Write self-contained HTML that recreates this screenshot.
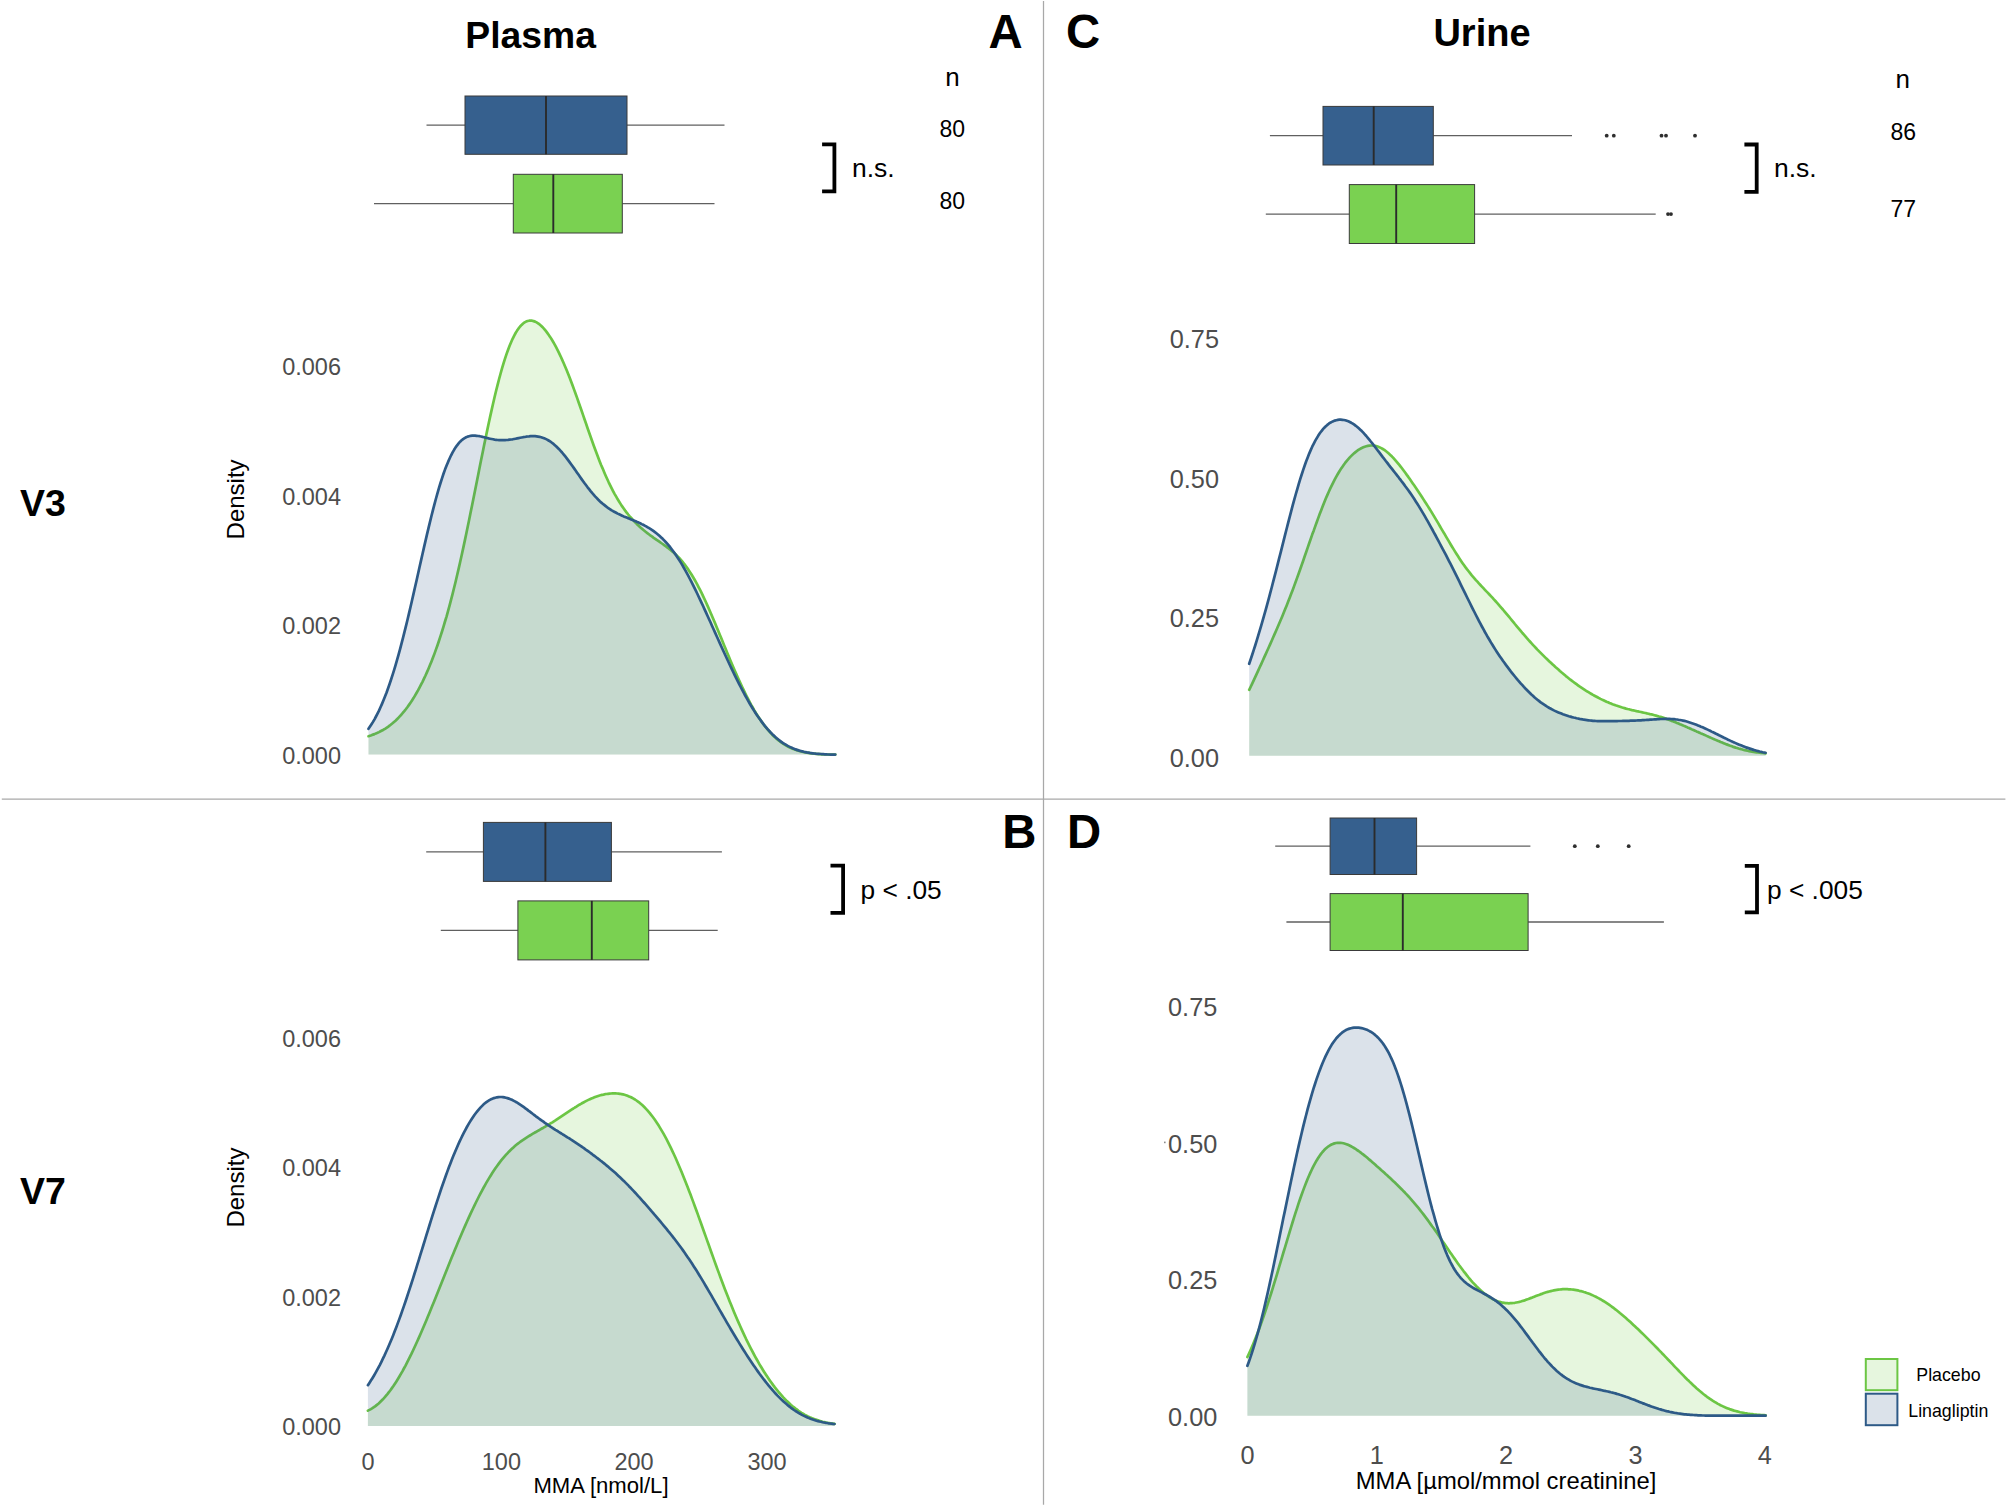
<!DOCTYPE html>
<html lang="en">
<head>
<meta charset="utf-8">
<title>MMA plasma and urine density</title>
<style>
html,body{margin:0;padding:0;background:#fff;}
body{width:2007px;height:1507px;overflow:hidden;}
svg{display:block;}
</style>
</head>
<body>
<svg width="2007" height="1507" viewBox="0 0 2007 1507" font-family='"Liberation Sans", sans-serif'>
<rect width="2007" height="1507" fill="#fff"/>
<path d="M1043.5,1 V1504.8" stroke="#a8a8a8" stroke-width="1.25" fill="none"/>
<path d="M1.8,799 H2005.4" stroke="#a8a8a8" stroke-width="1.25" fill="none"/>
<path d="M368.5,736.2 L370,735.7 L371.5,735.2 L373,734.6 L374.5,734.1 L376,733.4 L377.5,732.8 L379,732.1 L380.5,731.3 L382,730.5 L383.5,729.7 L385,728.8 L386.5,727.8 L388,726.8 L389.5,725.7 L391,724.5 L392.5,723.3 L394,722 L395.5,720.7 L397,719.2 L398.5,717.7 L400,716.1 L401.5,714.5 L403,712.7 L404.5,710.9 L406,709 L407.5,707 L409,704.9 L410.5,702.7 L412,700.4 L413.5,698.1 L415,695.6 L416.5,693 L418,690.4 L419.5,687.6 L421,684.7 L422.5,681.8 L424,678.7 L425.5,675.5 L427,672.1 L428.5,668.7 L430,665.1 L431.5,661.4 L433,657.6 L434.5,653.6 L436,649.4 L437.5,645.2 L439,640.8 L440.5,636.2 L442,631.5 L443.5,626.6 L445,621.5 L446.6,616.3 L448.1,610.9 L449.6,605.4 L451.1,599.7 L452.6,593.9 L454.1,587.8 L455.6,581.7 L457.1,575.3 L458.6,568.9 L460.1,562.3 L461.6,555.5 L463.1,548.6 L464.6,541.6 L466.1,534.5 L467.6,527.3 L469.1,520 L470.6,512.6 L472.1,505.2 L473.6,497.7 L475.1,490.2 L476.6,482.7 L478.1,475.2 L479.6,467.6 L481.1,460.1 L482.6,452.7 L484.1,445.3 L485.6,438 L487.1,430.9 L488.6,423.8 L490.1,416.9 L491.6,410.1 L493.1,403.5 L494.6,397 L496.1,390.8 L497.6,384.8 L499.1,379 L500.6,373.5 L502.1,368.2 L503.6,363.2 L505.1,358.4 L506.6,353.9 L508.1,349.7 L509.6,345.8 L511.1,342.2 L512.6,338.8 L514.1,335.8 L515.6,333 L517.1,330.6 L518.6,328.4 L520.1,326.5 L521.6,324.9 L523.1,323.5 L524.6,322.4 L526.1,321.6 L527.6,321 L529.1,320.7 L530.6,320.6 L532.1,320.7 L533.6,321.1 L535.1,321.6 L536.6,322.4 L538.1,323.3 L539.6,324.4 L541.1,325.7 L542.6,327.2 L544.1,328.8 L545.6,330.6 L547.1,332.6 L548.6,334.7 L550.1,336.9 L551.6,339.3 L553.1,341.8 L554.6,344.4 L556.1,347.2 L557.6,350.1 L559.1,353.2 L560.6,356.3 L562.1,359.6 L563.6,363 L565.1,366.5 L566.6,370.1 L568.1,373.8 L569.6,377.6 L571.1,381.5 L572.6,385.5 L574.1,389.6 L575.6,393.7 L577.1,397.9 L578.6,402.2 L580.1,406.5 L581.6,410.8 L583.1,415.1 L584.6,419.5 L586.1,423.8 L587.6,428.2 L589.1,432.5 L590.6,436.8 L592.1,441 L593.6,445.2 L595.1,449.3 L596.6,453.3 L598.1,457.3 L599.6,461.2 L601.1,465 L602.7,468.6 L604.2,472.2 L605.7,475.7 L607.2,479 L608.7,482.3 L610.2,485.4 L611.7,488.4 L613.2,491.3 L614.7,494.1 L616.2,496.7 L617.7,499.3 L619.2,501.7 L620.7,504.1 L622.2,506.4 L623.7,508.5 L625.2,510.6 L626.7,512.6 L628.2,514.5 L629.7,516.3 L631.2,518 L632.7,519.7 L634.2,521.3 L635.7,522.9 L637.2,524.4 L638.7,525.8 L640.2,527.2 L641.7,528.5 L643.2,529.8 L644.7,531 L646.2,532.2 L647.7,533.4 L649.2,534.5 L650.7,535.7 L652.2,536.7 L653.7,537.8 L655.2,538.8 L656.7,539.9 L658.2,540.9 L659.7,541.9 L661.2,543 L662.7,544 L664.2,545.1 L665.7,546.2 L667.2,547.3 L668.7,548.4 L670.2,549.6 L671.7,550.9 L673.2,552.1 L674.7,553.5 L676.2,554.9 L677.7,556.4 L679.2,558 L680.7,559.7 L682.2,561.4 L683.7,563.3 L685.2,565.2 L686.7,567.3 L688.2,569.4 L689.7,571.7 L691.2,574 L692.7,576.5 L694.2,579 L695.7,581.7 L697.2,584.4 L698.7,587.3 L700.2,590.2 L701.7,593.2 L703.2,596.3 L704.7,599.5 L706.2,602.8 L707.7,606.1 L709.2,609.5 L710.7,613 L712.2,616.5 L713.7,620 L715.2,623.6 L716.7,627.2 L718.2,630.8 L719.7,634.5 L721.2,638.1 L722.7,641.8 L724.2,645.4 L725.7,649.1 L727.2,652.7 L728.7,656.3 L730.2,659.9 L731.7,663.5 L733.2,667 L734.7,670.5 L736.2,673.9 L737.7,677.3 L739.2,680.6 L740.7,683.9 L742.2,687.1 L743.7,690.2 L745.2,693.3 L746.7,696.3 L748.2,699.2 L749.7,702.1 L751.2,704.9 L752.7,707.5 L754.2,710.2 L755.7,712.7 L757.2,715.1 L758.8,717.5 L760.3,719.7 L761.8,721.9 L763.3,724 L764.8,726 L766.3,727.9 L767.8,729.7 L769.3,731.4 L770.8,733.1 L772.3,734.7 L773.8,736.2 L775.3,737.6 L776.8,738.9 L778.3,740.1 L779.8,741.3 L781.3,742.4 L782.8,743.5 L784.3,744.4 L785.8,745.3 L787.3,746.2 L788.8,747 L790.3,747.7 L791.8,748.4 L793.3,749 L794.8,749.5 L796.3,750.1 L797.8,750.5 L799.3,751 L800.8,751.4 L802.3,751.8 L803.8,752.1 L805.3,752.4 L806.8,752.7 L808.3,752.9 L809.8,753.1 L811.3,753.3 L812.8,753.5 L814.3,753.7 L815.8,753.8 L817.3,754 L818.8,754.1 L820.3,754.2 L821.8,754.3 L823.3,754.4 L824.8,754.4 L826.3,754.5 L827.8,754.5 L829.3,754.6 L830.8,754.6 L832.3,754.6 L833.8,754.6 L835.3,754.6 L835.3,754.6 L368.5,754.6 Z" fill="#7ad151" fill-opacity="0.19" stroke="none"/>
<path d="M368.5,736.2 L370,735.7 L371.5,735.2 L373,734.6 L374.5,734.1 L376,733.4 L377.5,732.8 L379,732.1 L380.5,731.3 L382,730.5 L383.5,729.7 L385,728.8 L386.5,727.8 L388,726.8 L389.5,725.7 L391,724.5 L392.5,723.3 L394,722 L395.5,720.7 L397,719.2 L398.5,717.7 L400,716.1 L401.5,714.5 L403,712.7 L404.5,710.9 L406,709 L407.5,707 L409,704.9 L410.5,702.7 L412,700.4 L413.5,698.1 L415,695.6 L416.5,693 L418,690.4 L419.5,687.6 L421,684.7 L422.5,681.8 L424,678.7 L425.5,675.5 L427,672.1 L428.5,668.7 L430,665.1 L431.5,661.4 L433,657.6 L434.5,653.6 L436,649.4 L437.5,645.2 L439,640.8 L440.5,636.2 L442,631.5 L443.5,626.6 L445,621.5 L446.6,616.3 L448.1,610.9 L449.6,605.4 L451.1,599.7 L452.6,593.9 L454.1,587.8 L455.6,581.7 L457.1,575.3 L458.6,568.9 L460.1,562.3 L461.6,555.5 L463.1,548.6 L464.6,541.6 L466.1,534.5 L467.6,527.3 L469.1,520 L470.6,512.6 L472.1,505.2 L473.6,497.7 L475.1,490.2 L476.6,482.7 L478.1,475.2 L479.6,467.6 L481.1,460.1 L482.6,452.7 L484.1,445.3 L485.6,438 L487.1,430.9 L488.6,423.8 L490.1,416.9 L491.6,410.1 L493.1,403.5 L494.6,397 L496.1,390.8 L497.6,384.8 L499.1,379 L500.6,373.5 L502.1,368.2 L503.6,363.2 L505.1,358.4 L506.6,353.9 L508.1,349.7 L509.6,345.8 L511.1,342.2 L512.6,338.8 L514.1,335.8 L515.6,333 L517.1,330.6 L518.6,328.4 L520.1,326.5 L521.6,324.9 L523.1,323.5 L524.6,322.4 L526.1,321.6 L527.6,321 L529.1,320.7 L530.6,320.6 L532.1,320.7 L533.6,321.1 L535.1,321.6 L536.6,322.4 L538.1,323.3 L539.6,324.4 L541.1,325.7 L542.6,327.2 L544.1,328.8 L545.6,330.6 L547.1,332.6 L548.6,334.7 L550.1,336.9 L551.6,339.3 L553.1,341.8 L554.6,344.4 L556.1,347.2 L557.6,350.1 L559.1,353.2 L560.6,356.3 L562.1,359.6 L563.6,363 L565.1,366.5 L566.6,370.1 L568.1,373.8 L569.6,377.6 L571.1,381.5 L572.6,385.5 L574.1,389.6 L575.6,393.7 L577.1,397.9 L578.6,402.2 L580.1,406.5 L581.6,410.8 L583.1,415.1 L584.6,419.5 L586.1,423.8 L587.6,428.2 L589.1,432.5 L590.6,436.8 L592.1,441 L593.6,445.2 L595.1,449.3 L596.6,453.3 L598.1,457.3 L599.6,461.2 L601.1,465 L602.7,468.6 L604.2,472.2 L605.7,475.7 L607.2,479 L608.7,482.3 L610.2,485.4 L611.7,488.4 L613.2,491.3 L614.7,494.1 L616.2,496.7 L617.7,499.3 L619.2,501.7 L620.7,504.1 L622.2,506.4 L623.7,508.5 L625.2,510.6 L626.7,512.6 L628.2,514.5 L629.7,516.3 L631.2,518 L632.7,519.7 L634.2,521.3 L635.7,522.9 L637.2,524.4 L638.7,525.8 L640.2,527.2 L641.7,528.5 L643.2,529.8 L644.7,531 L646.2,532.2 L647.7,533.4 L649.2,534.5 L650.7,535.7 L652.2,536.7 L653.7,537.8 L655.2,538.8 L656.7,539.9 L658.2,540.9 L659.7,541.9 L661.2,543 L662.7,544 L664.2,545.1 L665.7,546.2 L667.2,547.3 L668.7,548.4 L670.2,549.6 L671.7,550.9 L673.2,552.1 L674.7,553.5 L676.2,554.9 L677.7,556.4 L679.2,558 L680.7,559.7 L682.2,561.4 L683.7,563.3 L685.2,565.2 L686.7,567.3 L688.2,569.4 L689.7,571.7 L691.2,574 L692.7,576.5 L694.2,579 L695.7,581.7 L697.2,584.4 L698.7,587.3 L700.2,590.2 L701.7,593.2 L703.2,596.3 L704.7,599.5 L706.2,602.8 L707.7,606.1 L709.2,609.5 L710.7,613 L712.2,616.5 L713.7,620 L715.2,623.6 L716.7,627.2 L718.2,630.8 L719.7,634.5 L721.2,638.1 L722.7,641.8 L724.2,645.4 L725.7,649.1 L727.2,652.7 L728.7,656.3 L730.2,659.9 L731.7,663.5 L733.2,667 L734.7,670.5 L736.2,673.9 L737.7,677.3 L739.2,680.6 L740.7,683.9 L742.2,687.1 L743.7,690.2 L745.2,693.3 L746.7,696.3 L748.2,699.2 L749.7,702.1 L751.2,704.9 L752.7,707.5 L754.2,710.2 L755.7,712.7 L757.2,715.1 L758.8,717.5 L760.3,719.7 L761.8,721.9 L763.3,724 L764.8,726 L766.3,727.9 L767.8,729.7 L769.3,731.4 L770.8,733.1 L772.3,734.7 L773.8,736.2 L775.3,737.6 L776.8,738.9 L778.3,740.1 L779.8,741.3 L781.3,742.4 L782.8,743.5 L784.3,744.4 L785.8,745.3 L787.3,746.2 L788.8,747 L790.3,747.7 L791.8,748.4 L793.3,749 L794.8,749.5 L796.3,750.1 L797.8,750.5 L799.3,751 L800.8,751.4 L802.3,751.8 L803.8,752.1 L805.3,752.4 L806.8,752.7 L808.3,752.9 L809.8,753.1 L811.3,753.3 L812.8,753.5 L814.3,753.7 L815.8,753.8 L817.3,754 L818.8,754.1 L820.3,754.2 L821.8,754.3 L823.3,754.4 L824.8,754.4 L826.3,754.5 L827.8,754.5 L829.3,754.6 L830.8,754.6 L832.3,754.6 L833.8,754.6 L835.3,754.6" fill="none" stroke="#6cc644" stroke-width="2.7" stroke-linejoin="round" stroke-linecap="round"/>
<path d="M368.5,728.8 L370,726.6 L371.5,724.3 L373,721.9 L374.5,719.3 L376,716.5 L377.5,713.6 L379,710.6 L380.5,707.3 L382,703.9 L383.5,700.3 L385,696.6 L386.5,692.7 L388,688.5 L389.5,684.3 L391,679.8 L392.5,675.1 L394,670.3 L395.5,665.3 L397,660.2 L398.5,654.8 L400,649.3 L401.5,643.7 L403,637.9 L404.5,631.9 L406,625.9 L407.5,619.7 L409,613.4 L410.5,607 L412,600.5 L413.5,593.9 L415,587.3 L416.5,580.7 L418,574 L419.5,567.3 L421,560.6 L422.5,554 L424,547.4 L425.5,540.9 L427,534.4 L428.5,528.1 L430,521.9 L431.5,515.8 L433,509.8 L434.5,504.1 L436,498.5 L437.5,493.1 L439,487.9 L440.5,483 L442,478.3 L443.5,473.8 L445,469.6 L446.6,465.6 L448.1,461.9 L449.6,458.5 L451.1,455.3 L452.6,452.4 L454.1,449.8 L455.6,447.4 L457.1,445.3 L458.6,443.4 L460.1,441.7 L461.6,440.3 L463.1,439.1 L464.6,438.1 L466.1,437.3 L467.6,436.6 L469.1,436.2 L470.6,435.8 L472.1,435.7 L473.6,435.6 L475.1,435.6 L476.6,435.8 L478.1,436 L479.6,436.2 L481.1,436.5 L482.6,436.9 L484.1,437.2 L485.6,437.6 L487.1,438 L488.6,438.4 L490.1,438.7 L491.6,439 L493.1,439.3 L494.6,439.6 L496.1,439.8 L497.6,440 L499.1,440.1 L500.6,440.2 L502.1,440.2 L503.6,440.2 L505.1,440.1 L506.6,440 L508.1,439.9 L509.6,439.7 L511.1,439.5 L512.6,439.3 L514.1,439 L515.6,438.7 L517.1,438.4 L518.6,438.1 L520.1,437.8 L521.6,437.5 L523.1,437.2 L524.6,437 L526.1,436.7 L527.6,436.5 L529.1,436.4 L530.6,436.2 L532.1,436.2 L533.6,436.2 L535.1,436.2 L536.6,436.4 L538.1,436.6 L539.6,436.8 L541.1,437.2 L542.6,437.7 L544.1,438.2 L545.6,438.9 L547.1,439.6 L548.6,440.5 L550.1,441.4 L551.6,442.5 L553.1,443.6 L554.6,444.9 L556.1,446.2 L557.6,447.7 L559.1,449.2 L560.6,450.8 L562.1,452.5 L563.6,454.3 L565.1,456.2 L566.6,458.1 L568.1,460.1 L569.6,462.1 L571.1,464.2 L572.6,466.3 L574.1,468.4 L575.6,470.5 L577.1,472.7 L578.6,474.8 L580.1,477 L581.6,479.1 L583.1,481.2 L584.6,483.3 L586.1,485.3 L587.6,487.3 L589.1,489.2 L590.6,491.1 L592.1,492.9 L593.6,494.6 L595.1,496.3 L596.6,497.9 L598.1,499.5 L599.6,501 L601.1,502.4 L602.7,503.7 L604.2,504.9 L605.7,506.1 L607.2,507.3 L608.7,508.3 L610.2,509.3 L611.7,510.3 L613.2,511.2 L614.7,512 L616.2,512.8 L617.7,513.6 L619.2,514.3 L620.7,515 L622.2,515.7 L623.7,516.4 L625.2,517 L626.7,517.6 L628.2,518.2 L629.7,518.8 L631.2,519.5 L632.7,520.1 L634.2,520.7 L635.7,521.3 L637.2,522 L638.7,522.6 L640.2,523.3 L641.7,524.1 L643.2,524.8 L644.7,525.6 L646.2,526.4 L647.7,527.3 L649.2,528.2 L650.7,529.1 L652.2,530.1 L653.7,531.2 L655.2,532.3 L656.7,533.5 L658.2,534.7 L659.7,536 L661.2,537.4 L662.7,538.8 L664.2,540.4 L665.7,542 L667.2,543.6 L668.7,545.4 L670.2,547.2 L671.7,549.2 L673.2,551.2 L674.7,553.3 L676.2,555.4 L677.7,557.7 L679.2,560 L680.7,562.4 L682.2,564.9 L683.7,567.5 L685.2,570.2 L686.7,572.9 L688.2,575.6 L689.7,578.5 L691.2,581.4 L692.7,584.3 L694.2,587.4 L695.7,590.4 L697.2,593.5 L698.7,596.7 L700.2,599.9 L701.7,603.1 L703.2,606.3 L704.7,609.6 L706.2,612.9 L707.7,616.2 L709.2,619.5 L710.7,622.8 L712.2,626.2 L713.7,629.5 L715.2,632.9 L716.7,636.2 L718.2,639.5 L719.7,642.9 L721.2,646.2 L722.7,649.5 L724.2,652.8 L725.7,656 L727.2,659.3 L728.7,662.5 L730.2,665.7 L731.7,668.8 L733.2,672 L734.7,675.1 L736.2,678.1 L737.7,681.1 L739.2,684.1 L740.7,687 L742.2,689.9 L743.7,692.7 L745.2,695.5 L746.7,698.2 L748.2,700.9 L749.7,703.5 L751.2,706 L752.7,708.5 L754.2,710.9 L755.7,713.2 L757.2,715.5 L758.8,717.7 L760.3,719.8 L761.8,721.9 L763.3,723.9 L764.8,725.8 L766.3,727.6 L767.8,729.4 L769.3,731 L770.8,732.6 L772.3,734.2 L773.8,735.6 L775.3,737 L776.8,738.3 L778.3,739.5 L779.8,740.7 L781.3,741.8 L782.8,742.9 L784.3,743.8 L785.8,744.7 L787.3,745.6 L788.8,746.4 L790.3,747.1 L791.8,747.8 L793.3,748.5 L794.8,749.1 L796.3,749.6 L797.8,750.1 L799.3,750.6 L800.8,751 L802.3,751.4 L803.8,751.8 L805.3,752.1 L806.8,752.4 L808.3,752.6 L809.8,752.9 L811.3,753.1 L812.8,753.3 L814.3,753.5 L815.8,753.7 L817.3,753.8 L818.8,753.9 L820.3,754 L821.8,754.1 L823.3,754.2 L824.8,754.3 L826.3,754.4 L827.8,754.5 L829.3,754.5 L830.8,754.6 L832.3,754.6 L833.8,754.6 L835.3,754.6 L835.3,754.6 L368.5,754.6 Z" fill="#35608d" fill-opacity="0.18" stroke="none"/>
<path d="M368.5,728.8 L370,726.6 L371.5,724.3 L373,721.9 L374.5,719.3 L376,716.5 L377.5,713.6 L379,710.6 L380.5,707.3 L382,703.9 L383.5,700.3 L385,696.6 L386.5,692.7 L388,688.5 L389.5,684.3 L391,679.8 L392.5,675.1 L394,670.3 L395.5,665.3 L397,660.2 L398.5,654.8 L400,649.3 L401.5,643.7 L403,637.9 L404.5,631.9 L406,625.9 L407.5,619.7 L409,613.4 L410.5,607 L412,600.5 L413.5,593.9 L415,587.3 L416.5,580.7 L418,574 L419.5,567.3 L421,560.6 L422.5,554 L424,547.4 L425.5,540.9 L427,534.4 L428.5,528.1 L430,521.9 L431.5,515.8 L433,509.8 L434.5,504.1 L436,498.5 L437.5,493.1 L439,487.9 L440.5,483 L442,478.3 L443.5,473.8 L445,469.6 L446.6,465.6 L448.1,461.9 L449.6,458.5 L451.1,455.3 L452.6,452.4 L454.1,449.8 L455.6,447.4 L457.1,445.3 L458.6,443.4 L460.1,441.7 L461.6,440.3 L463.1,439.1 L464.6,438.1 L466.1,437.3 L467.6,436.6 L469.1,436.2 L470.6,435.8 L472.1,435.7 L473.6,435.6 L475.1,435.6 L476.6,435.8 L478.1,436 L479.6,436.2 L481.1,436.5 L482.6,436.9 L484.1,437.2 L485.6,437.6 L487.1,438 L488.6,438.4 L490.1,438.7 L491.6,439 L493.1,439.3 L494.6,439.6 L496.1,439.8 L497.6,440 L499.1,440.1 L500.6,440.2 L502.1,440.2 L503.6,440.2 L505.1,440.1 L506.6,440 L508.1,439.9 L509.6,439.7 L511.1,439.5 L512.6,439.3 L514.1,439 L515.6,438.7 L517.1,438.4 L518.6,438.1 L520.1,437.8 L521.6,437.5 L523.1,437.2 L524.6,437 L526.1,436.7 L527.6,436.5 L529.1,436.4 L530.6,436.2 L532.1,436.2 L533.6,436.2 L535.1,436.2 L536.6,436.4 L538.1,436.6 L539.6,436.8 L541.1,437.2 L542.6,437.7 L544.1,438.2 L545.6,438.9 L547.1,439.6 L548.6,440.5 L550.1,441.4 L551.6,442.5 L553.1,443.6 L554.6,444.9 L556.1,446.2 L557.6,447.7 L559.1,449.2 L560.6,450.8 L562.1,452.5 L563.6,454.3 L565.1,456.2 L566.6,458.1 L568.1,460.1 L569.6,462.1 L571.1,464.2 L572.6,466.3 L574.1,468.4 L575.6,470.5 L577.1,472.7 L578.6,474.8 L580.1,477 L581.6,479.1 L583.1,481.2 L584.6,483.3 L586.1,485.3 L587.6,487.3 L589.1,489.2 L590.6,491.1 L592.1,492.9 L593.6,494.6 L595.1,496.3 L596.6,497.9 L598.1,499.5 L599.6,501 L601.1,502.4 L602.7,503.7 L604.2,504.9 L605.7,506.1 L607.2,507.3 L608.7,508.3 L610.2,509.3 L611.7,510.3 L613.2,511.2 L614.7,512 L616.2,512.8 L617.7,513.6 L619.2,514.3 L620.7,515 L622.2,515.7 L623.7,516.4 L625.2,517 L626.7,517.6 L628.2,518.2 L629.7,518.8 L631.2,519.5 L632.7,520.1 L634.2,520.7 L635.7,521.3 L637.2,522 L638.7,522.6 L640.2,523.3 L641.7,524.1 L643.2,524.8 L644.7,525.6 L646.2,526.4 L647.7,527.3 L649.2,528.2 L650.7,529.1 L652.2,530.1 L653.7,531.2 L655.2,532.3 L656.7,533.5 L658.2,534.7 L659.7,536 L661.2,537.4 L662.7,538.8 L664.2,540.4 L665.7,542 L667.2,543.6 L668.7,545.4 L670.2,547.2 L671.7,549.2 L673.2,551.2 L674.7,553.3 L676.2,555.4 L677.7,557.7 L679.2,560 L680.7,562.4 L682.2,564.9 L683.7,567.5 L685.2,570.2 L686.7,572.9 L688.2,575.6 L689.7,578.5 L691.2,581.4 L692.7,584.3 L694.2,587.4 L695.7,590.4 L697.2,593.5 L698.7,596.7 L700.2,599.9 L701.7,603.1 L703.2,606.3 L704.7,609.6 L706.2,612.9 L707.7,616.2 L709.2,619.5 L710.7,622.8 L712.2,626.2 L713.7,629.5 L715.2,632.9 L716.7,636.2 L718.2,639.5 L719.7,642.9 L721.2,646.2 L722.7,649.5 L724.2,652.8 L725.7,656 L727.2,659.3 L728.7,662.5 L730.2,665.7 L731.7,668.8 L733.2,672 L734.7,675.1 L736.2,678.1 L737.7,681.1 L739.2,684.1 L740.7,687 L742.2,689.9 L743.7,692.7 L745.2,695.5 L746.7,698.2 L748.2,700.9 L749.7,703.5 L751.2,706 L752.7,708.5 L754.2,710.9 L755.7,713.2 L757.2,715.5 L758.8,717.7 L760.3,719.8 L761.8,721.9 L763.3,723.9 L764.8,725.8 L766.3,727.6 L767.8,729.4 L769.3,731 L770.8,732.6 L772.3,734.2 L773.8,735.6 L775.3,737 L776.8,738.3 L778.3,739.5 L779.8,740.7 L781.3,741.8 L782.8,742.9 L784.3,743.8 L785.8,744.7 L787.3,745.6 L788.8,746.4 L790.3,747.1 L791.8,747.8 L793.3,748.5 L794.8,749.1 L796.3,749.6 L797.8,750.1 L799.3,750.6 L800.8,751 L802.3,751.4 L803.8,751.8 L805.3,752.1 L806.8,752.4 L808.3,752.6 L809.8,752.9 L811.3,753.1 L812.8,753.3 L814.3,753.5 L815.8,753.7 L817.3,753.8 L818.8,753.9 L820.3,754 L821.8,754.1 L823.3,754.2 L824.8,754.3 L826.3,754.4 L827.8,754.5 L829.3,754.5 L830.8,754.6 L832.3,754.6 L833.8,754.6 L835.3,754.6" fill="none" stroke="#2d5a87" stroke-width="2.7" stroke-linejoin="round" stroke-linecap="round"/>
<path d="M1249.2,689.9 L1250.7,686.7 L1252.2,683.6 L1253.7,680.4 L1255.2,677.1 L1256.7,673.9 L1258.2,670.6 L1259.7,667.3 L1261.2,664.1 L1262.7,660.8 L1264.2,657.4 L1265.7,654.1 L1267.2,650.8 L1268.7,647.5 L1270.2,644.1 L1271.7,640.7 L1273.2,637.3 L1274.7,633.9 L1276.2,630.5 L1277.7,627 L1279.2,623.5 L1280.7,620 L1282.2,616.4 L1283.7,612.8 L1285.2,609.1 L1286.7,605.4 L1288.2,601.6 L1289.7,597.7 L1291.2,593.8 L1292.7,589.9 L1294.2,585.9 L1295.7,581.8 L1297.2,577.6 L1298.7,573.5 L1300.2,569.2 L1301.7,565 L1303.2,560.7 L1304.7,556.3 L1306.2,552 L1307.7,547.6 L1309.2,543.3 L1310.7,539 L1312.2,534.6 L1313.8,530.4 L1315.3,526.1 L1316.8,522 L1318.3,517.9 L1319.8,513.8 L1321.3,509.9 L1322.8,506 L1324.3,502.3 L1325.8,498.6 L1327.3,495.1 L1328.8,491.7 L1330.3,488.4 L1331.8,485.3 L1333.3,482.3 L1334.8,479.4 L1336.3,476.6 L1337.8,474 L1339.3,471.5 L1340.8,469.1 L1342.3,466.9 L1343.8,464.7 L1345.3,462.7 L1346.8,460.8 L1348.3,459.1 L1349.8,457.4 L1351.3,455.9 L1352.8,454.4 L1354.3,453.1 L1355.8,451.9 L1357.3,450.7 L1358.8,449.7 L1360.3,448.8 L1361.8,448 L1363.3,447.3 L1364.8,446.7 L1366.3,446.3 L1367.8,445.9 L1369.3,445.7 L1370.8,445.5 L1372.3,445.5 L1373.8,445.7 L1375.3,445.9 L1376.8,446.3 L1378.3,446.8 L1379.8,447.4 L1381.3,448.1 L1382.8,449 L1384.3,449.9 L1385.8,451 L1387.3,452.2 L1388.8,453.5 L1390.3,454.9 L1391.8,456.3 L1393.3,457.9 L1394.8,459.6 L1396.3,461.3 L1397.8,463.1 L1399.3,464.9 L1400.8,466.8 L1402.3,468.8 L1403.8,470.8 L1405.3,472.8 L1406.8,474.9 L1408.3,476.9 L1409.8,479.1 L1411.3,481.2 L1412.8,483.4 L1414.3,485.5 L1415.8,487.7 L1417.3,490 L1418.8,492.2 L1420.3,494.5 L1421.8,496.7 L1423.3,499.1 L1424.8,501.4 L1426.3,503.7 L1427.8,506.1 L1429.3,508.5 L1430.8,510.9 L1432.3,513.4 L1433.8,515.9 L1435.3,518.4 L1436.8,520.9 L1438.3,523.4 L1439.8,526 L1441.3,528.6 L1442.8,531.1 L1444.4,533.7 L1445.9,536.3 L1447.4,538.9 L1448.9,541.4 L1450.4,544 L1451.9,546.5 L1453.4,548.9 L1454.9,551.4 L1456.4,553.8 L1457.9,556.1 L1459.4,558.4 L1460.9,560.7 L1462.4,562.9 L1463.9,565 L1465.4,567.1 L1466.9,569.1 L1468.4,571 L1469.9,572.9 L1471.4,574.8 L1472.9,576.6 L1474.4,578.3 L1475.9,580.1 L1477.4,581.7 L1478.9,583.4 L1480.4,585 L1481.9,586.6 L1483.4,588.2 L1484.9,589.8 L1486.4,591.4 L1487.9,592.9 L1489.4,594.5 L1490.9,596.1 L1492.4,597.7 L1493.9,599.4 L1495.4,601 L1496.9,602.7 L1498.4,604.3 L1499.9,606.1 L1501.4,607.8 L1502.9,609.5 L1504.4,611.3 L1505.9,613.1 L1507.4,614.9 L1508.9,616.7 L1510.4,618.5 L1511.9,620.3 L1513.4,622.1 L1514.9,624 L1516.4,625.8 L1517.9,627.6 L1519.4,629.4 L1520.9,631.2 L1522.4,633 L1523.9,634.7 L1525.4,636.4 L1526.9,638.2 L1528.4,639.9 L1529.9,641.5 L1531.4,643.2 L1532.9,644.8 L1534.4,646.4 L1535.9,648 L1537.4,649.6 L1538.9,651.1 L1540.4,652.6 L1541.9,654.1 L1543.4,655.6 L1544.9,657.1 L1546.4,658.6 L1547.9,660 L1549.4,661.4 L1550.9,662.8 L1552.4,664.2 L1553.9,665.6 L1555.4,667 L1556.9,668.3 L1558.4,669.6 L1559.9,671 L1561.4,672.3 L1562.9,673.5 L1564.4,674.8 L1565.9,676.1 L1567.4,677.3 L1568.9,678.5 L1570.4,679.7 L1572,680.9 L1573.5,682 L1575,683.1 L1576.5,684.2 L1578,685.3 L1579.5,686.4 L1581,687.4 L1582.5,688.4 L1584,689.4 L1585.5,690.4 L1587,691.3 L1588.5,692.2 L1590,693.1 L1591.5,694 L1593,694.9 L1594.5,695.7 L1596,696.5 L1597.5,697.3 L1599,698.1 L1600.5,698.9 L1602,699.6 L1603.5,700.3 L1605,701 L1606.5,701.7 L1608,702.3 L1609.5,703 L1611,703.6 L1612.5,704.2 L1614,704.7 L1615.5,705.3 L1617,705.8 L1618.5,706.3 L1620,706.8 L1621.5,707.3 L1623,707.7 L1624.5,708.1 L1626,708.6 L1627.5,709 L1629,709.3 L1630.5,709.7 L1632,710.1 L1633.5,710.4 L1635,710.7 L1636.5,711.1 L1638,711.4 L1639.5,711.7 L1641,712 L1642.5,712.4 L1644,712.7 L1645.5,713 L1647,713.4 L1648.5,713.7 L1650,714.1 L1651.5,714.4 L1653,714.8 L1654.5,715.2 L1656,715.6 L1657.5,716 L1659,716.5 L1660.5,716.9 L1662,717.4 L1663.5,717.9 L1665,718.4 L1666.5,718.9 L1668,719.5 L1669.5,720 L1671,720.6 L1672.5,721.1 L1674,721.7 L1675.5,722.3 L1677,722.9 L1678.5,723.5 L1680,724.2 L1681.5,724.8 L1683,725.4 L1684.5,726.1 L1686,726.7 L1687.5,727.4 L1689,728 L1690.5,728.7 L1692,729.4 L1693.5,730 L1695,730.7 L1696.5,731.4 L1698,732 L1699.5,732.7 L1701,733.4 L1702.6,734.1 L1704.1,734.7 L1705.6,735.4 L1707.1,736.1 L1708.6,736.8 L1710.1,737.4 L1711.6,738.1 L1713.1,738.8 L1714.6,739.4 L1716.1,740.1 L1717.6,740.7 L1719.1,741.3 L1720.6,742 L1722.1,742.6 L1723.6,743.2 L1725.1,743.8 L1726.6,744.4 L1728.1,744.9 L1729.6,745.5 L1731.1,746 L1732.6,746.6 L1734.1,747.1 L1735.6,747.6 L1737.1,748 L1738.6,748.5 L1740.1,748.9 L1741.6,749.3 L1743.1,749.7 L1744.6,750.1 L1746.1,750.4 L1747.6,750.8 L1749.1,751.1 L1750.6,751.4 L1752.1,751.6 L1753.6,751.9 L1755.1,752.1 L1756.6,752.3 L1758.1,752.5 L1759.6,752.7 L1761.1,752.9 L1762.6,753 L1764.1,753.1 L1765.6,753.3 L1765.6,755.8 L1249.2,755.8 Z" fill="#7ad151" fill-opacity="0.19" stroke="none"/>
<path d="M1249.2,689.9 L1250.7,686.7 L1252.2,683.6 L1253.7,680.4 L1255.2,677.1 L1256.7,673.9 L1258.2,670.6 L1259.7,667.3 L1261.2,664.1 L1262.7,660.8 L1264.2,657.4 L1265.7,654.1 L1267.2,650.8 L1268.7,647.5 L1270.2,644.1 L1271.7,640.7 L1273.2,637.3 L1274.7,633.9 L1276.2,630.5 L1277.7,627 L1279.2,623.5 L1280.7,620 L1282.2,616.4 L1283.7,612.8 L1285.2,609.1 L1286.7,605.4 L1288.2,601.6 L1289.7,597.7 L1291.2,593.8 L1292.7,589.9 L1294.2,585.9 L1295.7,581.8 L1297.2,577.6 L1298.7,573.5 L1300.2,569.2 L1301.7,565 L1303.2,560.7 L1304.7,556.3 L1306.2,552 L1307.7,547.6 L1309.2,543.3 L1310.7,539 L1312.2,534.6 L1313.8,530.4 L1315.3,526.1 L1316.8,522 L1318.3,517.9 L1319.8,513.8 L1321.3,509.9 L1322.8,506 L1324.3,502.3 L1325.8,498.6 L1327.3,495.1 L1328.8,491.7 L1330.3,488.4 L1331.8,485.3 L1333.3,482.3 L1334.8,479.4 L1336.3,476.6 L1337.8,474 L1339.3,471.5 L1340.8,469.1 L1342.3,466.9 L1343.8,464.7 L1345.3,462.7 L1346.8,460.8 L1348.3,459.1 L1349.8,457.4 L1351.3,455.9 L1352.8,454.4 L1354.3,453.1 L1355.8,451.9 L1357.3,450.7 L1358.8,449.7 L1360.3,448.8 L1361.8,448 L1363.3,447.3 L1364.8,446.7 L1366.3,446.3 L1367.8,445.9 L1369.3,445.7 L1370.8,445.5 L1372.3,445.5 L1373.8,445.7 L1375.3,445.9 L1376.8,446.3 L1378.3,446.8 L1379.8,447.4 L1381.3,448.1 L1382.8,449 L1384.3,449.9 L1385.8,451 L1387.3,452.2 L1388.8,453.5 L1390.3,454.9 L1391.8,456.3 L1393.3,457.9 L1394.8,459.6 L1396.3,461.3 L1397.8,463.1 L1399.3,464.9 L1400.8,466.8 L1402.3,468.8 L1403.8,470.8 L1405.3,472.8 L1406.8,474.9 L1408.3,476.9 L1409.8,479.1 L1411.3,481.2 L1412.8,483.4 L1414.3,485.5 L1415.8,487.7 L1417.3,490 L1418.8,492.2 L1420.3,494.5 L1421.8,496.7 L1423.3,499.1 L1424.8,501.4 L1426.3,503.7 L1427.8,506.1 L1429.3,508.5 L1430.8,510.9 L1432.3,513.4 L1433.8,515.9 L1435.3,518.4 L1436.8,520.9 L1438.3,523.4 L1439.8,526 L1441.3,528.6 L1442.8,531.1 L1444.4,533.7 L1445.9,536.3 L1447.4,538.9 L1448.9,541.4 L1450.4,544 L1451.9,546.5 L1453.4,548.9 L1454.9,551.4 L1456.4,553.8 L1457.9,556.1 L1459.4,558.4 L1460.9,560.7 L1462.4,562.9 L1463.9,565 L1465.4,567.1 L1466.9,569.1 L1468.4,571 L1469.9,572.9 L1471.4,574.8 L1472.9,576.6 L1474.4,578.3 L1475.9,580.1 L1477.4,581.7 L1478.9,583.4 L1480.4,585 L1481.9,586.6 L1483.4,588.2 L1484.9,589.8 L1486.4,591.4 L1487.9,592.9 L1489.4,594.5 L1490.9,596.1 L1492.4,597.7 L1493.9,599.4 L1495.4,601 L1496.9,602.7 L1498.4,604.3 L1499.9,606.1 L1501.4,607.8 L1502.9,609.5 L1504.4,611.3 L1505.9,613.1 L1507.4,614.9 L1508.9,616.7 L1510.4,618.5 L1511.9,620.3 L1513.4,622.1 L1514.9,624 L1516.4,625.8 L1517.9,627.6 L1519.4,629.4 L1520.9,631.2 L1522.4,633 L1523.9,634.7 L1525.4,636.4 L1526.9,638.2 L1528.4,639.9 L1529.9,641.5 L1531.4,643.2 L1532.9,644.8 L1534.4,646.4 L1535.9,648 L1537.4,649.6 L1538.9,651.1 L1540.4,652.6 L1541.9,654.1 L1543.4,655.6 L1544.9,657.1 L1546.4,658.6 L1547.9,660 L1549.4,661.4 L1550.9,662.8 L1552.4,664.2 L1553.9,665.6 L1555.4,667 L1556.9,668.3 L1558.4,669.6 L1559.9,671 L1561.4,672.3 L1562.9,673.5 L1564.4,674.8 L1565.9,676.1 L1567.4,677.3 L1568.9,678.5 L1570.4,679.7 L1572,680.9 L1573.5,682 L1575,683.1 L1576.5,684.2 L1578,685.3 L1579.5,686.4 L1581,687.4 L1582.5,688.4 L1584,689.4 L1585.5,690.4 L1587,691.3 L1588.5,692.2 L1590,693.1 L1591.5,694 L1593,694.9 L1594.5,695.7 L1596,696.5 L1597.5,697.3 L1599,698.1 L1600.5,698.9 L1602,699.6 L1603.5,700.3 L1605,701 L1606.5,701.7 L1608,702.3 L1609.5,703 L1611,703.6 L1612.5,704.2 L1614,704.7 L1615.5,705.3 L1617,705.8 L1618.5,706.3 L1620,706.8 L1621.5,707.3 L1623,707.7 L1624.5,708.1 L1626,708.6 L1627.5,709 L1629,709.3 L1630.5,709.7 L1632,710.1 L1633.5,710.4 L1635,710.7 L1636.5,711.1 L1638,711.4 L1639.5,711.7 L1641,712 L1642.5,712.4 L1644,712.7 L1645.5,713 L1647,713.4 L1648.5,713.7 L1650,714.1 L1651.5,714.4 L1653,714.8 L1654.5,715.2 L1656,715.6 L1657.5,716 L1659,716.5 L1660.5,716.9 L1662,717.4 L1663.5,717.9 L1665,718.4 L1666.5,718.9 L1668,719.5 L1669.5,720 L1671,720.6 L1672.5,721.1 L1674,721.7 L1675.5,722.3 L1677,722.9 L1678.5,723.5 L1680,724.2 L1681.5,724.8 L1683,725.4 L1684.5,726.1 L1686,726.7 L1687.5,727.4 L1689,728 L1690.5,728.7 L1692,729.4 L1693.5,730 L1695,730.7 L1696.5,731.4 L1698,732 L1699.5,732.7 L1701,733.4 L1702.6,734.1 L1704.1,734.7 L1705.6,735.4 L1707.1,736.1 L1708.6,736.8 L1710.1,737.4 L1711.6,738.1 L1713.1,738.8 L1714.6,739.4 L1716.1,740.1 L1717.6,740.7 L1719.1,741.3 L1720.6,742 L1722.1,742.6 L1723.6,743.2 L1725.1,743.8 L1726.6,744.4 L1728.1,744.9 L1729.6,745.5 L1731.1,746 L1732.6,746.6 L1734.1,747.1 L1735.6,747.6 L1737.1,748 L1738.6,748.5 L1740.1,748.9 L1741.6,749.3 L1743.1,749.7 L1744.6,750.1 L1746.1,750.4 L1747.6,750.8 L1749.1,751.1 L1750.6,751.4 L1752.1,751.6 L1753.6,751.9 L1755.1,752.1 L1756.6,752.3 L1758.1,752.5 L1759.6,752.7 L1761.1,752.9 L1762.6,753 L1764.1,753.1 L1765.6,753.3" fill="none" stroke="#6cc644" stroke-width="2.7" stroke-linejoin="round" stroke-linecap="round"/>
<path d="M1249.2,663.8 L1250.7,659.3 L1252.2,654.8 L1253.7,650.2 L1255.2,645.5 L1256.7,640.6 L1258.2,635.7 L1259.7,630.7 L1261.2,625.6 L1262.7,620.4 L1264.2,615.2 L1265.7,609.8 L1267.2,604.3 L1268.7,598.8 L1270.2,593.2 L1271.7,587.5 L1273.2,581.7 L1274.7,575.9 L1276.2,570.1 L1277.7,564.1 L1279.2,558.2 L1280.7,552.3 L1282.2,546.3 L1283.7,540.3 L1285.2,534.4 L1286.7,528.5 L1288.2,522.6 L1289.7,516.8 L1291.2,511.1 L1292.7,505.4 L1294.2,499.9 L1295.7,494.5 L1297.2,489.3 L1298.7,484.2 L1300.2,479.2 L1301.7,474.5 L1303.2,469.9 L1304.7,465.5 L1306.2,461.3 L1307.7,457.4 L1309.2,453.6 L1310.7,450.1 L1312.2,446.7 L1313.8,443.6 L1315.3,440.7 L1316.8,438.1 L1318.3,435.6 L1319.8,433.3 L1321.3,431.3 L1322.8,429.4 L1324.3,427.7 L1325.8,426.2 L1327.3,424.9 L1328.8,423.7 L1330.3,422.7 L1331.8,421.9 L1333.3,421.2 L1334.8,420.6 L1336.3,420.2 L1337.8,419.9 L1339.3,419.7 L1340.8,419.7 L1342.3,419.8 L1343.8,420 L1345.3,420.3 L1346.8,420.8 L1348.3,421.3 L1349.8,422 L1351.3,422.8 L1352.8,423.7 L1354.3,424.7 L1355.8,425.8 L1357.3,427 L1358.8,428.3 L1360.3,429.7 L1361.8,431.1 L1363.3,432.7 L1364.8,434.3 L1366.3,436 L1367.8,437.8 L1369.3,439.6 L1370.8,441.5 L1372.3,443.3 L1373.8,445.3 L1375.3,447.2 L1376.8,449.2 L1378.3,451.2 L1379.8,453.1 L1381.3,455.1 L1382.8,457.1 L1384.3,459 L1385.8,461 L1387.3,462.9 L1388.8,464.9 L1390.3,466.8 L1391.8,468.7 L1393.3,470.6 L1394.8,472.5 L1396.3,474.4 L1397.8,476.3 L1399.3,478.3 L1400.8,480.2 L1402.3,482.2 L1403.8,484.1 L1405.3,486.2 L1406.8,488.2 L1408.3,490.3 L1409.8,492.4 L1411.3,494.6 L1412.8,496.8 L1414.3,499.1 L1415.8,501.4 L1417.3,503.7 L1418.8,506.1 L1420.3,508.6 L1421.8,511.1 L1423.3,513.6 L1424.8,516.2 L1426.3,518.8 L1427.8,521.4 L1429.3,524.1 L1430.8,526.8 L1432.3,529.5 L1433.8,532.3 L1435.3,535 L1436.8,537.8 L1438.3,540.6 L1439.8,543.5 L1441.3,546.3 L1442.8,549.2 L1444.4,552.1 L1445.9,554.9 L1447.4,557.9 L1448.9,560.8 L1450.4,563.7 L1451.9,566.7 L1453.4,569.7 L1454.9,572.7 L1456.4,575.7 L1457.9,578.7 L1459.4,581.7 L1460.9,584.8 L1462.4,587.8 L1463.9,590.9 L1465.4,593.9 L1466.9,597 L1468.4,600 L1469.9,603 L1471.4,606.1 L1472.9,609.1 L1474.4,612 L1475.9,615 L1477.4,617.9 L1478.9,620.8 L1480.4,623.7 L1481.9,626.5 L1483.4,629.2 L1484.9,632 L1486.4,634.6 L1487.9,637.3 L1489.4,639.8 L1490.9,642.4 L1492.4,644.8 L1493.9,647.2 L1495.4,649.6 L1496.9,651.9 L1498.4,654.2 L1499.9,656.4 L1501.4,658.6 L1502.9,660.8 L1504.4,662.8 L1505.9,664.9 L1507.4,666.9 L1508.9,668.9 L1510.4,670.9 L1511.9,672.8 L1513.4,674.7 L1514.9,676.5 L1516.4,678.3 L1517.9,680.1 L1519.4,681.8 L1520.9,683.6 L1522.4,685.2 L1523.9,686.9 L1525.4,688.5 L1526.9,690 L1528.4,691.5 L1529.9,693 L1531.4,694.5 L1532.9,695.8 L1534.4,697.2 L1535.9,698.5 L1537.4,699.7 L1538.9,700.9 L1540.4,702.1 L1541.9,703.2 L1543.4,704.2 L1544.9,705.2 L1546.4,706.2 L1547.9,707.1 L1549.4,708 L1550.9,708.8 L1552.4,709.6 L1553.9,710.4 L1555.4,711.1 L1556.9,711.8 L1558.4,712.4 L1559.9,713 L1561.4,713.6 L1562.9,714.2 L1564.4,714.7 L1565.9,715.2 L1567.4,715.7 L1568.9,716.2 L1570.4,716.6 L1572,717.1 L1573.5,717.5 L1575,717.8 L1576.5,718.2 L1578,718.5 L1579.5,718.9 L1581,719.2 L1582.5,719.4 L1584,719.7 L1585.5,719.9 L1587,720.1 L1588.5,720.3 L1590,720.5 L1591.5,720.6 L1593,720.8 L1594.5,720.9 L1596,721 L1597.5,721.1 L1599,721.1 L1600.5,721.2 L1602,721.2 L1603.5,721.2 L1605,721.2 L1606.5,721.2 L1608,721.2 L1609.5,721.2 L1611,721.2 L1612.5,721.2 L1614,721.1 L1615.5,721.1 L1617,721.1 L1618.5,721 L1620,721 L1621.5,721 L1623,720.9 L1624.5,720.9 L1626,720.8 L1627.5,720.8 L1629,720.8 L1630.5,720.7 L1632,720.7 L1633.5,720.6 L1635,720.6 L1636.5,720.5 L1638,720.4 L1639.5,720.4 L1641,720.3 L1642.5,720.2 L1644,720.1 L1645.5,720 L1647,719.9 L1648.5,719.8 L1650,719.7 L1651.5,719.6 L1653,719.5 L1654.5,719.4 L1656,719.3 L1657.5,719.2 L1659,719.1 L1660.5,719 L1662,719 L1663.5,718.9 L1665,718.9 L1666.5,718.9 L1668,718.9 L1669.5,718.9 L1671,719 L1672.5,719.1 L1674,719.2 L1675.5,719.4 L1677,719.5 L1678.5,719.8 L1680,720 L1681.5,720.3 L1683,720.6 L1684.5,720.9 L1686,721.3 L1687.5,721.7 L1689,722.2 L1690.5,722.7 L1692,723.2 L1693.5,723.7 L1695,724.2 L1696.5,724.8 L1698,725.4 L1699.5,726 L1701,726.7 L1702.6,727.3 L1704.1,728 L1705.6,728.7 L1707.1,729.4 L1708.6,730.1 L1710.1,730.8 L1711.6,731.6 L1713.1,732.3 L1714.6,733 L1716.1,733.8 L1717.6,734.5 L1719.1,735.3 L1720.6,736 L1722.1,736.7 L1723.6,737.5 L1725.1,738.2 L1726.6,738.9 L1728.1,739.7 L1729.6,740.4 L1731.1,741.1 L1732.6,741.8 L1734.1,742.4 L1735.6,743.1 L1737.1,743.8 L1738.6,744.4 L1740.1,745 L1741.6,745.6 L1743.1,746.2 L1744.6,746.8 L1746.1,747.4 L1747.6,747.9 L1749.1,748.4 L1750.6,748.9 L1752.1,749.4 L1753.6,749.9 L1755.1,750.3 L1756.6,750.7 L1758.1,751.1 L1759.6,751.5 L1761.1,751.8 L1762.6,752.2 L1764.1,752.5 L1765.6,752.8 L1765.6,755.8 L1249.2,755.8 Z" fill="#35608d" fill-opacity="0.18" stroke="none"/>
<path d="M1249.2,663.8 L1250.7,659.3 L1252.2,654.8 L1253.7,650.2 L1255.2,645.5 L1256.7,640.6 L1258.2,635.7 L1259.7,630.7 L1261.2,625.6 L1262.7,620.4 L1264.2,615.2 L1265.7,609.8 L1267.2,604.3 L1268.7,598.8 L1270.2,593.2 L1271.7,587.5 L1273.2,581.7 L1274.7,575.9 L1276.2,570.1 L1277.7,564.1 L1279.2,558.2 L1280.7,552.3 L1282.2,546.3 L1283.7,540.3 L1285.2,534.4 L1286.7,528.5 L1288.2,522.6 L1289.7,516.8 L1291.2,511.1 L1292.7,505.4 L1294.2,499.9 L1295.7,494.5 L1297.2,489.3 L1298.7,484.2 L1300.2,479.2 L1301.7,474.5 L1303.2,469.9 L1304.7,465.5 L1306.2,461.3 L1307.7,457.4 L1309.2,453.6 L1310.7,450.1 L1312.2,446.7 L1313.8,443.6 L1315.3,440.7 L1316.8,438.1 L1318.3,435.6 L1319.8,433.3 L1321.3,431.3 L1322.8,429.4 L1324.3,427.7 L1325.8,426.2 L1327.3,424.9 L1328.8,423.7 L1330.3,422.7 L1331.8,421.9 L1333.3,421.2 L1334.8,420.6 L1336.3,420.2 L1337.8,419.9 L1339.3,419.7 L1340.8,419.7 L1342.3,419.8 L1343.8,420 L1345.3,420.3 L1346.8,420.8 L1348.3,421.3 L1349.8,422 L1351.3,422.8 L1352.8,423.7 L1354.3,424.7 L1355.8,425.8 L1357.3,427 L1358.8,428.3 L1360.3,429.7 L1361.8,431.1 L1363.3,432.7 L1364.8,434.3 L1366.3,436 L1367.8,437.8 L1369.3,439.6 L1370.8,441.5 L1372.3,443.3 L1373.8,445.3 L1375.3,447.2 L1376.8,449.2 L1378.3,451.2 L1379.8,453.1 L1381.3,455.1 L1382.8,457.1 L1384.3,459 L1385.8,461 L1387.3,462.9 L1388.8,464.9 L1390.3,466.8 L1391.8,468.7 L1393.3,470.6 L1394.8,472.5 L1396.3,474.4 L1397.8,476.3 L1399.3,478.3 L1400.8,480.2 L1402.3,482.2 L1403.8,484.1 L1405.3,486.2 L1406.8,488.2 L1408.3,490.3 L1409.8,492.4 L1411.3,494.6 L1412.8,496.8 L1414.3,499.1 L1415.8,501.4 L1417.3,503.7 L1418.8,506.1 L1420.3,508.6 L1421.8,511.1 L1423.3,513.6 L1424.8,516.2 L1426.3,518.8 L1427.8,521.4 L1429.3,524.1 L1430.8,526.8 L1432.3,529.5 L1433.8,532.3 L1435.3,535 L1436.8,537.8 L1438.3,540.6 L1439.8,543.5 L1441.3,546.3 L1442.8,549.2 L1444.4,552.1 L1445.9,554.9 L1447.4,557.9 L1448.9,560.8 L1450.4,563.7 L1451.9,566.7 L1453.4,569.7 L1454.9,572.7 L1456.4,575.7 L1457.9,578.7 L1459.4,581.7 L1460.9,584.8 L1462.4,587.8 L1463.9,590.9 L1465.4,593.9 L1466.9,597 L1468.4,600 L1469.9,603 L1471.4,606.1 L1472.9,609.1 L1474.4,612 L1475.9,615 L1477.4,617.9 L1478.9,620.8 L1480.4,623.7 L1481.9,626.5 L1483.4,629.2 L1484.9,632 L1486.4,634.6 L1487.9,637.3 L1489.4,639.8 L1490.9,642.4 L1492.4,644.8 L1493.9,647.2 L1495.4,649.6 L1496.9,651.9 L1498.4,654.2 L1499.9,656.4 L1501.4,658.6 L1502.9,660.8 L1504.4,662.8 L1505.9,664.9 L1507.4,666.9 L1508.9,668.9 L1510.4,670.9 L1511.9,672.8 L1513.4,674.7 L1514.9,676.5 L1516.4,678.3 L1517.9,680.1 L1519.4,681.8 L1520.9,683.6 L1522.4,685.2 L1523.9,686.9 L1525.4,688.5 L1526.9,690 L1528.4,691.5 L1529.9,693 L1531.4,694.5 L1532.9,695.8 L1534.4,697.2 L1535.9,698.5 L1537.4,699.7 L1538.9,700.9 L1540.4,702.1 L1541.9,703.2 L1543.4,704.2 L1544.9,705.2 L1546.4,706.2 L1547.9,707.1 L1549.4,708 L1550.9,708.8 L1552.4,709.6 L1553.9,710.4 L1555.4,711.1 L1556.9,711.8 L1558.4,712.4 L1559.9,713 L1561.4,713.6 L1562.9,714.2 L1564.4,714.7 L1565.9,715.2 L1567.4,715.7 L1568.9,716.2 L1570.4,716.6 L1572,717.1 L1573.5,717.5 L1575,717.8 L1576.5,718.2 L1578,718.5 L1579.5,718.9 L1581,719.2 L1582.5,719.4 L1584,719.7 L1585.5,719.9 L1587,720.1 L1588.5,720.3 L1590,720.5 L1591.5,720.6 L1593,720.8 L1594.5,720.9 L1596,721 L1597.5,721.1 L1599,721.1 L1600.5,721.2 L1602,721.2 L1603.5,721.2 L1605,721.2 L1606.5,721.2 L1608,721.2 L1609.5,721.2 L1611,721.2 L1612.5,721.2 L1614,721.1 L1615.5,721.1 L1617,721.1 L1618.5,721 L1620,721 L1621.5,721 L1623,720.9 L1624.5,720.9 L1626,720.8 L1627.5,720.8 L1629,720.8 L1630.5,720.7 L1632,720.7 L1633.5,720.6 L1635,720.6 L1636.5,720.5 L1638,720.4 L1639.5,720.4 L1641,720.3 L1642.5,720.2 L1644,720.1 L1645.5,720 L1647,719.9 L1648.5,719.8 L1650,719.7 L1651.5,719.6 L1653,719.5 L1654.5,719.4 L1656,719.3 L1657.5,719.2 L1659,719.1 L1660.5,719 L1662,719 L1663.5,718.9 L1665,718.9 L1666.5,718.9 L1668,718.9 L1669.5,718.9 L1671,719 L1672.5,719.1 L1674,719.2 L1675.5,719.4 L1677,719.5 L1678.5,719.8 L1680,720 L1681.5,720.3 L1683,720.6 L1684.5,720.9 L1686,721.3 L1687.5,721.7 L1689,722.2 L1690.5,722.7 L1692,723.2 L1693.5,723.7 L1695,724.2 L1696.5,724.8 L1698,725.4 L1699.5,726 L1701,726.7 L1702.6,727.3 L1704.1,728 L1705.6,728.7 L1707.1,729.4 L1708.6,730.1 L1710.1,730.8 L1711.6,731.6 L1713.1,732.3 L1714.6,733 L1716.1,733.8 L1717.6,734.5 L1719.1,735.3 L1720.6,736 L1722.1,736.7 L1723.6,737.5 L1725.1,738.2 L1726.6,738.9 L1728.1,739.7 L1729.6,740.4 L1731.1,741.1 L1732.6,741.8 L1734.1,742.4 L1735.6,743.1 L1737.1,743.8 L1738.6,744.4 L1740.1,745 L1741.6,745.6 L1743.1,746.2 L1744.6,746.8 L1746.1,747.4 L1747.6,747.9 L1749.1,748.4 L1750.6,748.9 L1752.1,749.4 L1753.6,749.9 L1755.1,750.3 L1756.6,750.7 L1758.1,751.1 L1759.6,751.5 L1761.1,751.8 L1762.6,752.2 L1764.1,752.5 L1765.6,752.8" fill="none" stroke="#2d5a87" stroke-width="2.7" stroke-linejoin="round" stroke-linecap="round"/>
<path d="M367.9,1410.6 L369.4,1409.9 L370.9,1409.1 L372.4,1408.2 L373.9,1407.2 L375.4,1406.1 L376.9,1404.9 L378.4,1403.7 L379.9,1402.3 L381.4,1400.8 L382.9,1399.3 L384.4,1397.7 L385.9,1395.9 L387.4,1394.1 L388.9,1392.2 L390.4,1390.2 L391.9,1388.1 L393.4,1386 L394.9,1383.7 L396.4,1381.4 L397.9,1379 L399.4,1376.5 L400.9,1373.9 L402.4,1371.3 L403.9,1368.5 L405.4,1365.8 L406.9,1362.9 L408.4,1359.9 L409.9,1356.9 L411.4,1353.9 L412.9,1350.7 L414.4,1347.5 L415.9,1344.3 L417.4,1341 L418.9,1337.6 L420.4,1334.2 L421.9,1330.8 L423.4,1327.3 L424.9,1323.8 L426.4,1320.2 L427.9,1316.6 L429.4,1313 L430.9,1309.3 L432.4,1305.6 L433.9,1301.9 L435.4,1298.2 L436.9,1294.5 L438.4,1290.8 L439.9,1287 L441.4,1283.3 L442.9,1279.5 L444.4,1275.8 L445.9,1272 L447.4,1268.3 L448.9,1264.6 L450.4,1260.8 L451.9,1257.1 L453.4,1253.5 L454.9,1249.8 L456.4,1246.2 L457.9,1242.6 L459.4,1239 L460.9,1235.5 L462.4,1232 L463.9,1228.5 L465.4,1225.1 L466.9,1221.7 L468.4,1218.4 L469.9,1215.1 L471.4,1211.9 L472.9,1208.7 L474.4,1205.6 L475.9,1202.5 L477.4,1199.5 L478.9,1196.5 L480.4,1193.6 L481.9,1190.8 L483.4,1188 L484.9,1185.3 L486.4,1182.7 L487.9,1180.1 L489.4,1177.6 L490.9,1175.2 L492.4,1172.8 L493.9,1170.6 L495.4,1168.3 L496.9,1166.2 L498.4,1164.1 L499.9,1162.1 L501.4,1160.2 L502.9,1158.4 L504.4,1156.6 L505.9,1154.9 L507.4,1153.3 L508.9,1151.7 L510.4,1150.2 L511.9,1148.8 L513.4,1147.4 L514.9,1146.1 L516.4,1144.8 L517.9,1143.6 L519.4,1142.5 L520.9,1141.4 L522.4,1140.3 L523.9,1139.3 L525.4,1138.3 L526.9,1137.3 L528.4,1136.4 L529.9,1135.5 L531.4,1134.6 L532.9,1133.7 L534.4,1132.8 L535.9,1132 L537.4,1131.1 L538.9,1130.3 L540.4,1129.4 L541.9,1128.5 L543.4,1127.7 L544.9,1126.8 L546.4,1125.9 L547.9,1125 L549.4,1124.1 L550.9,1123.2 L552.4,1122.3 L553.9,1121.3 L555.4,1120.4 L556.9,1119.4 L558.4,1118.4 L559.9,1117.4 L561.4,1116.4 L562.9,1115.4 L564.4,1114.4 L565.9,1113.4 L567.4,1112.4 L568.9,1111.4 L570.4,1110.4 L571.9,1109.4 L573.4,1108.5 L574.9,1107.5 L576.4,1106.6 L577.9,1105.6 L579.4,1104.7 L580.9,1103.9 L582.4,1103 L583.9,1102.2 L585.4,1101.4 L586.9,1100.6 L588.4,1099.9 L589.9,1099.2 L591.4,1098.5 L592.9,1097.9 L594.4,1097.3 L595.9,1096.7 L597.4,1096.2 L598.9,1095.7 L600.4,1095.3 L602,1094.9 L603.5,1094.6 L605,1094.2 L606.5,1094 L608,1093.8 L609.5,1093.6 L611,1093.5 L612.5,1093.4 L614,1093.4 L615.5,1093.4 L617,1093.5 L618.5,1093.6 L620,1093.8 L621.5,1094.1 L623,1094.4 L624.5,1094.8 L626,1095.2 L627.5,1095.8 L629,1096.4 L630.5,1097 L632,1097.8 L633.5,1098.6 L635,1099.5 L636.5,1100.5 L638,1101.6 L639.5,1102.7 L641,1104 L642.5,1105.3 L644,1106.8 L645.5,1108.3 L647,1109.9 L648.5,1111.6 L650,1113.4 L651.5,1115.3 L653,1117.3 L654.5,1119.3 L656,1121.5 L657.5,1123.8 L659,1126.1 L660.5,1128.6 L662,1131.1 L663.5,1133.7 L665,1136.4 L666.5,1139.2 L668,1142.1 L669.5,1145.1 L671,1148.2 L672.5,1151.3 L674,1154.5 L675.5,1157.8 L677,1161.2 L678.5,1164.7 L680,1168.2 L681.5,1171.8 L683,1175.4 L684.5,1179.2 L686,1182.9 L687.5,1186.8 L689,1190.7 L690.5,1194.6 L692,1198.6 L693.5,1202.6 L695,1206.7 L696.5,1210.8 L698,1214.9 L699.5,1219.1 L701,1223.3 L702.5,1227.5 L704,1231.7 L705.5,1235.9 L707,1240.1 L708.5,1244.3 L710,1248.5 L711.5,1252.7 L713,1256.9 L714.5,1261.1 L716,1265.2 L717.5,1269.4 L719,1273.4 L720.5,1277.5 L722,1281.5 L723.5,1285.5 L725,1289.4 L726.5,1293.3 L728,1297.1 L729.5,1300.9 L731,1304.6 L732.5,1308.3 L734,1311.9 L735.5,1315.5 L737,1319 L738.5,1322.4 L740,1325.8 L741.5,1329.1 L743,1332.4 L744.5,1335.6 L746,1338.8 L747.5,1341.8 L749,1344.8 L750.5,1347.8 L752,1350.7 L753.5,1353.5 L755,1356.3 L756.5,1359 L758,1361.7 L759.5,1364.3 L761,1366.8 L762.5,1369.3 L764,1371.7 L765.5,1374 L767,1376.3 L768.5,1378.5 L770,1380.7 L771.5,1382.8 L773,1384.9 L774.5,1386.9 L776,1388.8 L777.5,1390.7 L779,1392.5 L780.5,1394.2 L782,1395.9 L783.5,1397.6 L785,1399.2 L786.5,1400.7 L788,1402.1 L789.5,1403.5 L791,1404.9 L792.5,1406.2 L794,1407.4 L795.5,1408.6 L797,1409.7 L798.5,1410.8 L800,1411.8 L801.5,1412.8 L803,1413.7 L804.5,1414.6 L806,1415.4 L807.5,1416.2 L809,1416.9 L810.5,1417.6 L812,1418.2 L813.5,1418.8 L815,1419.4 L816.5,1419.9 L818,1420.4 L819.5,1420.9 L821,1421.3 L822.5,1421.7 L824,1422 L825.5,1422.4 L827,1422.7 L828.5,1423 L830,1423.2 L831.5,1423.5 L833,1423.7 L834.5,1423.9 L834.5,1425.9 L367.9,1425.9 Z" fill="#7ad151" fill-opacity="0.19" stroke="none"/>
<path d="M367.9,1410.6 L369.4,1409.9 L370.9,1409.1 L372.4,1408.2 L373.9,1407.2 L375.4,1406.1 L376.9,1404.9 L378.4,1403.7 L379.9,1402.3 L381.4,1400.8 L382.9,1399.3 L384.4,1397.7 L385.9,1395.9 L387.4,1394.1 L388.9,1392.2 L390.4,1390.2 L391.9,1388.1 L393.4,1386 L394.9,1383.7 L396.4,1381.4 L397.9,1379 L399.4,1376.5 L400.9,1373.9 L402.4,1371.3 L403.9,1368.5 L405.4,1365.8 L406.9,1362.9 L408.4,1359.9 L409.9,1356.9 L411.4,1353.9 L412.9,1350.7 L414.4,1347.5 L415.9,1344.3 L417.4,1341 L418.9,1337.6 L420.4,1334.2 L421.9,1330.8 L423.4,1327.3 L424.9,1323.8 L426.4,1320.2 L427.9,1316.6 L429.4,1313 L430.9,1309.3 L432.4,1305.6 L433.9,1301.9 L435.4,1298.2 L436.9,1294.5 L438.4,1290.8 L439.9,1287 L441.4,1283.3 L442.9,1279.5 L444.4,1275.8 L445.9,1272 L447.4,1268.3 L448.9,1264.6 L450.4,1260.8 L451.9,1257.1 L453.4,1253.5 L454.9,1249.8 L456.4,1246.2 L457.9,1242.6 L459.4,1239 L460.9,1235.5 L462.4,1232 L463.9,1228.5 L465.4,1225.1 L466.9,1221.7 L468.4,1218.4 L469.9,1215.1 L471.4,1211.9 L472.9,1208.7 L474.4,1205.6 L475.9,1202.5 L477.4,1199.5 L478.9,1196.5 L480.4,1193.6 L481.9,1190.8 L483.4,1188 L484.9,1185.3 L486.4,1182.7 L487.9,1180.1 L489.4,1177.6 L490.9,1175.2 L492.4,1172.8 L493.9,1170.6 L495.4,1168.3 L496.9,1166.2 L498.4,1164.1 L499.9,1162.1 L501.4,1160.2 L502.9,1158.4 L504.4,1156.6 L505.9,1154.9 L507.4,1153.3 L508.9,1151.7 L510.4,1150.2 L511.9,1148.8 L513.4,1147.4 L514.9,1146.1 L516.4,1144.8 L517.9,1143.6 L519.4,1142.5 L520.9,1141.4 L522.4,1140.3 L523.9,1139.3 L525.4,1138.3 L526.9,1137.3 L528.4,1136.4 L529.9,1135.5 L531.4,1134.6 L532.9,1133.7 L534.4,1132.8 L535.9,1132 L537.4,1131.1 L538.9,1130.3 L540.4,1129.4 L541.9,1128.5 L543.4,1127.7 L544.9,1126.8 L546.4,1125.9 L547.9,1125 L549.4,1124.1 L550.9,1123.2 L552.4,1122.3 L553.9,1121.3 L555.4,1120.4 L556.9,1119.4 L558.4,1118.4 L559.9,1117.4 L561.4,1116.4 L562.9,1115.4 L564.4,1114.4 L565.9,1113.4 L567.4,1112.4 L568.9,1111.4 L570.4,1110.4 L571.9,1109.4 L573.4,1108.5 L574.9,1107.5 L576.4,1106.6 L577.9,1105.6 L579.4,1104.7 L580.9,1103.9 L582.4,1103 L583.9,1102.2 L585.4,1101.4 L586.9,1100.6 L588.4,1099.9 L589.9,1099.2 L591.4,1098.5 L592.9,1097.9 L594.4,1097.3 L595.9,1096.7 L597.4,1096.2 L598.9,1095.7 L600.4,1095.3 L602,1094.9 L603.5,1094.6 L605,1094.2 L606.5,1094 L608,1093.8 L609.5,1093.6 L611,1093.5 L612.5,1093.4 L614,1093.4 L615.5,1093.4 L617,1093.5 L618.5,1093.6 L620,1093.8 L621.5,1094.1 L623,1094.4 L624.5,1094.8 L626,1095.2 L627.5,1095.8 L629,1096.4 L630.5,1097 L632,1097.8 L633.5,1098.6 L635,1099.5 L636.5,1100.5 L638,1101.6 L639.5,1102.7 L641,1104 L642.5,1105.3 L644,1106.8 L645.5,1108.3 L647,1109.9 L648.5,1111.6 L650,1113.4 L651.5,1115.3 L653,1117.3 L654.5,1119.3 L656,1121.5 L657.5,1123.8 L659,1126.1 L660.5,1128.6 L662,1131.1 L663.5,1133.7 L665,1136.4 L666.5,1139.2 L668,1142.1 L669.5,1145.1 L671,1148.2 L672.5,1151.3 L674,1154.5 L675.5,1157.8 L677,1161.2 L678.5,1164.7 L680,1168.2 L681.5,1171.8 L683,1175.4 L684.5,1179.2 L686,1182.9 L687.5,1186.8 L689,1190.7 L690.5,1194.6 L692,1198.6 L693.5,1202.6 L695,1206.7 L696.5,1210.8 L698,1214.9 L699.5,1219.1 L701,1223.3 L702.5,1227.5 L704,1231.7 L705.5,1235.9 L707,1240.1 L708.5,1244.3 L710,1248.5 L711.5,1252.7 L713,1256.9 L714.5,1261.1 L716,1265.2 L717.5,1269.4 L719,1273.4 L720.5,1277.5 L722,1281.5 L723.5,1285.5 L725,1289.4 L726.5,1293.3 L728,1297.1 L729.5,1300.9 L731,1304.6 L732.5,1308.3 L734,1311.9 L735.5,1315.5 L737,1319 L738.5,1322.4 L740,1325.8 L741.5,1329.1 L743,1332.4 L744.5,1335.6 L746,1338.8 L747.5,1341.8 L749,1344.8 L750.5,1347.8 L752,1350.7 L753.5,1353.5 L755,1356.3 L756.5,1359 L758,1361.7 L759.5,1364.3 L761,1366.8 L762.5,1369.3 L764,1371.7 L765.5,1374 L767,1376.3 L768.5,1378.5 L770,1380.7 L771.5,1382.8 L773,1384.9 L774.5,1386.9 L776,1388.8 L777.5,1390.7 L779,1392.5 L780.5,1394.2 L782,1395.9 L783.5,1397.6 L785,1399.2 L786.5,1400.7 L788,1402.1 L789.5,1403.5 L791,1404.9 L792.5,1406.2 L794,1407.4 L795.5,1408.6 L797,1409.7 L798.5,1410.8 L800,1411.8 L801.5,1412.8 L803,1413.7 L804.5,1414.6 L806,1415.4 L807.5,1416.2 L809,1416.9 L810.5,1417.6 L812,1418.2 L813.5,1418.8 L815,1419.4 L816.5,1419.9 L818,1420.4 L819.5,1420.9 L821,1421.3 L822.5,1421.7 L824,1422 L825.5,1422.4 L827,1422.7 L828.5,1423 L830,1423.2 L831.5,1423.5 L833,1423.7 L834.5,1423.9" fill="none" stroke="#6cc644" stroke-width="2.7" stroke-linejoin="round" stroke-linecap="round"/>
<path d="M367.9,1385.2 L369.4,1382.9 L370.9,1380.6 L372.4,1378.2 L373.9,1375.7 L375.4,1373.1 L376.9,1370.4 L378.4,1367.6 L379.9,1364.8 L381.4,1361.8 L382.9,1358.7 L384.4,1355.6 L385.9,1352.3 L387.4,1349 L388.9,1345.5 L390.4,1342 L391.9,1338.4 L393.4,1334.7 L394.9,1330.8 L396.4,1326.9 L397.9,1322.9 L399.4,1318.9 L400.9,1314.7 L402.4,1310.4 L403.9,1306.1 L405.4,1301.7 L406.9,1297.3 L408.4,1292.7 L409.9,1288.1 L411.4,1283.5 L412.9,1278.8 L414.4,1274 L415.9,1269.3 L417.4,1264.4 L418.9,1259.6 L420.4,1254.7 L421.9,1249.9 L423.4,1245 L424.9,1240.1 L426.4,1235.2 L427.9,1230.4 L429.4,1225.5 L430.9,1220.7 L432.4,1215.9 L433.9,1211.2 L435.4,1206.5 L436.9,1201.9 L438.4,1197.3 L439.9,1192.8 L441.4,1188.3 L442.9,1184 L444.4,1179.7 L445.9,1175.5 L447.4,1171.4 L448.9,1167.3 L450.4,1163.4 L451.9,1159.6 L453.4,1155.8 L454.9,1152.2 L456.4,1148.7 L457.9,1145.2 L459.4,1141.9 L460.9,1138.7 L462.4,1135.6 L463.9,1132.7 L465.4,1129.8 L466.9,1127 L468.4,1124.4 L469.9,1121.9 L471.4,1119.5 L472.9,1117.2 L474.4,1115 L475.9,1113 L477.4,1111.1 L478.9,1109.3 L480.4,1107.6 L481.9,1106.1 L483.4,1104.6 L484.9,1103.3 L486.4,1102.1 L487.9,1101.1 L489.4,1100.2 L490.9,1099.3 L492.4,1098.7 L493.9,1098.1 L495.4,1097.7 L496.9,1097.3 L498.4,1097.1 L499.9,1097 L501.4,1097 L502.9,1097.1 L504.4,1097.4 L505.9,1097.7 L507.4,1098.1 L508.9,1098.6 L510.4,1099.2 L511.9,1099.8 L513.4,1100.6 L514.9,1101.4 L516.4,1102.2 L517.9,1103.1 L519.4,1104.1 L520.9,1105.1 L522.4,1106.1 L523.9,1107.2 L525.4,1108.3 L526.9,1109.4 L528.4,1110.6 L529.9,1111.7 L531.4,1112.8 L532.9,1114 L534.4,1115.1 L535.9,1116.3 L537.4,1117.4 L538.9,1118.5 L540.4,1119.6 L541.9,1120.7 L543.4,1121.7 L544.9,1122.8 L546.4,1123.8 L547.9,1124.9 L549.4,1125.9 L550.9,1126.9 L552.4,1127.8 L553.9,1128.8 L555.4,1129.8 L556.9,1130.7 L558.4,1131.7 L559.9,1132.6 L561.4,1133.5 L562.9,1134.5 L564.4,1135.4 L565.9,1136.3 L567.4,1137.3 L568.9,1138.2 L570.4,1139.2 L571.9,1140.1 L573.4,1141.1 L574.9,1142.1 L576.4,1143.1 L577.9,1144.1 L579.4,1145.1 L580.9,1146.1 L582.4,1147.2 L583.9,1148.2 L585.4,1149.3 L586.9,1150.3 L588.4,1151.4 L589.9,1152.5 L591.4,1153.6 L592.9,1154.8 L594.4,1155.9 L595.9,1157 L597.4,1158.2 L598.9,1159.3 L600.4,1160.5 L602,1161.7 L603.5,1162.9 L605,1164.1 L606.5,1165.4 L608,1166.6 L609.5,1167.9 L611,1169.2 L612.5,1170.5 L614,1171.8 L615.5,1173.1 L617,1174.5 L618.5,1175.9 L620,1177.3 L621.5,1178.7 L623,1180.2 L624.5,1181.6 L626,1183.1 L627.5,1184.6 L629,1186.2 L630.5,1187.7 L632,1189.3 L633.5,1190.9 L635,1192.5 L636.5,1194.1 L638,1195.8 L639.5,1197.4 L641,1199.1 L642.5,1200.8 L644,1202.5 L645.5,1204.2 L647,1205.9 L648.5,1207.6 L650,1209.3 L651.5,1211.1 L653,1212.8 L654.5,1214.6 L656,1216.3 L657.5,1218.1 L659,1219.9 L660.5,1221.7 L662,1223.5 L663.5,1225.3 L665,1227.1 L666.5,1228.9 L668,1230.8 L669.5,1232.6 L671,1234.5 L672.5,1236.4 L674,1238.3 L675.5,1240.3 L677,1242.3 L678.5,1244.3 L680,1246.3 L681.5,1248.3 L683,1250.4 L684.5,1252.5 L686,1254.7 L687.5,1256.9 L689,1259.1 L690.5,1261.3 L692,1263.6 L693.5,1265.9 L695,1268.3 L696.5,1270.6 L698,1273 L699.5,1275.5 L701,1277.9 L702.5,1280.4 L704,1282.9 L705.5,1285.5 L707,1288 L708.5,1290.6 L710,1293.1 L711.5,1295.7 L713,1298.3 L714.5,1300.9 L716,1303.6 L717.5,1306.2 L719,1308.8 L720.5,1311.4 L722,1314 L723.5,1316.6 L725,1319.2 L726.5,1321.8 L728,1324.4 L729.5,1326.9 L731,1329.5 L732.5,1332 L734,1334.5 L735.5,1337 L737,1339.5 L738.5,1341.9 L740,1344.4 L741.5,1346.8 L743,1349.2 L744.5,1351.5 L746,1353.9 L747.5,1356.2 L749,1358.5 L750.5,1360.7 L752,1363 L753.5,1365.2 L755,1367.3 L756.5,1369.5 L758,1371.6 L759.5,1373.7 L761,1375.7 L762.5,1377.7 L764,1379.7 L765.5,1381.6 L767,1383.5 L768.5,1385.4 L770,1387.2 L771.5,1388.9 L773,1390.7 L774.5,1392.3 L776,1394 L777.5,1395.6 L779,1397.1 L780.5,1398.6 L782,1400.1 L783.5,1401.5 L785,1402.8 L786.5,1404.1 L788,1405.4 L789.5,1406.6 L791,1407.8 L792.5,1408.9 L794,1410 L795.5,1411 L797,1411.9 L798.5,1412.9 L800,1413.7 L801.5,1414.6 L803,1415.4 L804.5,1416.1 L806,1416.8 L807.5,1417.5 L809,1418.1 L810.5,1418.7 L812,1419.2 L813.5,1419.7 L815,1420.2 L816.5,1420.7 L818,1421.1 L819.5,1421.5 L821,1421.8 L822.5,1422.2 L824,1422.5 L825.5,1422.8 L827,1423 L828.5,1423.3 L830,1423.5 L831.5,1423.7 L833,1423.9 L834.5,1424 L834.5,1425.9 L367.9,1425.9 Z" fill="#35608d" fill-opacity="0.18" stroke="none"/>
<path d="M367.9,1385.2 L369.4,1382.9 L370.9,1380.6 L372.4,1378.2 L373.9,1375.7 L375.4,1373.1 L376.9,1370.4 L378.4,1367.6 L379.9,1364.8 L381.4,1361.8 L382.9,1358.7 L384.4,1355.6 L385.9,1352.3 L387.4,1349 L388.9,1345.5 L390.4,1342 L391.9,1338.4 L393.4,1334.7 L394.9,1330.8 L396.4,1326.9 L397.9,1322.9 L399.4,1318.9 L400.9,1314.7 L402.4,1310.4 L403.9,1306.1 L405.4,1301.7 L406.9,1297.3 L408.4,1292.7 L409.9,1288.1 L411.4,1283.5 L412.9,1278.8 L414.4,1274 L415.9,1269.3 L417.4,1264.4 L418.9,1259.6 L420.4,1254.7 L421.9,1249.9 L423.4,1245 L424.9,1240.1 L426.4,1235.2 L427.9,1230.4 L429.4,1225.5 L430.9,1220.7 L432.4,1215.9 L433.9,1211.2 L435.4,1206.5 L436.9,1201.9 L438.4,1197.3 L439.9,1192.8 L441.4,1188.3 L442.9,1184 L444.4,1179.7 L445.9,1175.5 L447.4,1171.4 L448.9,1167.3 L450.4,1163.4 L451.9,1159.6 L453.4,1155.8 L454.9,1152.2 L456.4,1148.7 L457.9,1145.2 L459.4,1141.9 L460.9,1138.7 L462.4,1135.6 L463.9,1132.7 L465.4,1129.8 L466.9,1127 L468.4,1124.4 L469.9,1121.9 L471.4,1119.5 L472.9,1117.2 L474.4,1115 L475.9,1113 L477.4,1111.1 L478.9,1109.3 L480.4,1107.6 L481.9,1106.1 L483.4,1104.6 L484.9,1103.3 L486.4,1102.1 L487.9,1101.1 L489.4,1100.2 L490.9,1099.3 L492.4,1098.7 L493.9,1098.1 L495.4,1097.7 L496.9,1097.3 L498.4,1097.1 L499.9,1097 L501.4,1097 L502.9,1097.1 L504.4,1097.4 L505.9,1097.7 L507.4,1098.1 L508.9,1098.6 L510.4,1099.2 L511.9,1099.8 L513.4,1100.6 L514.9,1101.4 L516.4,1102.2 L517.9,1103.1 L519.4,1104.1 L520.9,1105.1 L522.4,1106.1 L523.9,1107.2 L525.4,1108.3 L526.9,1109.4 L528.4,1110.6 L529.9,1111.7 L531.4,1112.8 L532.9,1114 L534.4,1115.1 L535.9,1116.3 L537.4,1117.4 L538.9,1118.5 L540.4,1119.6 L541.9,1120.7 L543.4,1121.7 L544.9,1122.8 L546.4,1123.8 L547.9,1124.9 L549.4,1125.9 L550.9,1126.9 L552.4,1127.8 L553.9,1128.8 L555.4,1129.8 L556.9,1130.7 L558.4,1131.7 L559.9,1132.6 L561.4,1133.5 L562.9,1134.5 L564.4,1135.4 L565.9,1136.3 L567.4,1137.3 L568.9,1138.2 L570.4,1139.2 L571.9,1140.1 L573.4,1141.1 L574.9,1142.1 L576.4,1143.1 L577.9,1144.1 L579.4,1145.1 L580.9,1146.1 L582.4,1147.2 L583.9,1148.2 L585.4,1149.3 L586.9,1150.3 L588.4,1151.4 L589.9,1152.5 L591.4,1153.6 L592.9,1154.8 L594.4,1155.9 L595.9,1157 L597.4,1158.2 L598.9,1159.3 L600.4,1160.5 L602,1161.7 L603.5,1162.9 L605,1164.1 L606.5,1165.4 L608,1166.6 L609.5,1167.9 L611,1169.2 L612.5,1170.5 L614,1171.8 L615.5,1173.1 L617,1174.5 L618.5,1175.9 L620,1177.3 L621.5,1178.7 L623,1180.2 L624.5,1181.6 L626,1183.1 L627.5,1184.6 L629,1186.2 L630.5,1187.7 L632,1189.3 L633.5,1190.9 L635,1192.5 L636.5,1194.1 L638,1195.8 L639.5,1197.4 L641,1199.1 L642.5,1200.8 L644,1202.5 L645.5,1204.2 L647,1205.9 L648.5,1207.6 L650,1209.3 L651.5,1211.1 L653,1212.8 L654.5,1214.6 L656,1216.3 L657.5,1218.1 L659,1219.9 L660.5,1221.7 L662,1223.5 L663.5,1225.3 L665,1227.1 L666.5,1228.9 L668,1230.8 L669.5,1232.6 L671,1234.5 L672.5,1236.4 L674,1238.3 L675.5,1240.3 L677,1242.3 L678.5,1244.3 L680,1246.3 L681.5,1248.3 L683,1250.4 L684.5,1252.5 L686,1254.7 L687.5,1256.9 L689,1259.1 L690.5,1261.3 L692,1263.6 L693.5,1265.9 L695,1268.3 L696.5,1270.6 L698,1273 L699.5,1275.5 L701,1277.9 L702.5,1280.4 L704,1282.9 L705.5,1285.5 L707,1288 L708.5,1290.6 L710,1293.1 L711.5,1295.7 L713,1298.3 L714.5,1300.9 L716,1303.6 L717.5,1306.2 L719,1308.8 L720.5,1311.4 L722,1314 L723.5,1316.6 L725,1319.2 L726.5,1321.8 L728,1324.4 L729.5,1326.9 L731,1329.5 L732.5,1332 L734,1334.5 L735.5,1337 L737,1339.5 L738.5,1341.9 L740,1344.4 L741.5,1346.8 L743,1349.2 L744.5,1351.5 L746,1353.9 L747.5,1356.2 L749,1358.5 L750.5,1360.7 L752,1363 L753.5,1365.2 L755,1367.3 L756.5,1369.5 L758,1371.6 L759.5,1373.7 L761,1375.7 L762.5,1377.7 L764,1379.7 L765.5,1381.6 L767,1383.5 L768.5,1385.4 L770,1387.2 L771.5,1388.9 L773,1390.7 L774.5,1392.3 L776,1394 L777.5,1395.6 L779,1397.1 L780.5,1398.6 L782,1400.1 L783.5,1401.5 L785,1402.8 L786.5,1404.1 L788,1405.4 L789.5,1406.6 L791,1407.8 L792.5,1408.9 L794,1410 L795.5,1411 L797,1411.9 L798.5,1412.9 L800,1413.7 L801.5,1414.6 L803,1415.4 L804.5,1416.1 L806,1416.8 L807.5,1417.5 L809,1418.1 L810.5,1418.7 L812,1419.2 L813.5,1419.7 L815,1420.2 L816.5,1420.7 L818,1421.1 L819.5,1421.5 L821,1421.8 L822.5,1422.2 L824,1422.5 L825.5,1422.8 L827,1423 L828.5,1423.3 L830,1423.5 L831.5,1423.7 L833,1423.9 L834.5,1424" fill="none" stroke="#2d5a87" stroke-width="2.7" stroke-linejoin="round" stroke-linecap="round"/>
<path d="M1247.4,1357 L1248.9,1353.8 L1250.4,1350.5 L1251.9,1347.1 L1253.4,1343.5 L1254.9,1339.8 L1256.4,1336.1 L1257.9,1332.2 L1259.4,1328.2 L1260.9,1324.1 L1262.4,1319.8 L1263.9,1315.5 L1265.4,1311.1 L1266.9,1306.6 L1268.4,1301.9 L1269.9,1297.2 L1271.4,1292.5 L1272.9,1287.6 L1274.4,1282.7 L1275.9,1277.8 L1277.4,1272.8 L1278.9,1267.7 L1280.4,1262.7 L1281.9,1257.6 L1283.4,1252.5 L1285,1247.4 L1286.5,1242.3 L1288,1237.3 L1289.5,1232.3 L1291,1227.4 L1292.5,1222.5 L1294,1217.7 L1295.5,1212.9 L1297,1208.3 L1298.5,1203.7 L1300,1199.3 L1301.5,1195 L1303,1190.9 L1304.5,1186.9 L1306,1183 L1307.5,1179.3 L1309,1175.8 L1310.5,1172.4 L1312,1169.2 L1313.5,1166.2 L1315,1163.4 L1316.5,1160.7 L1318,1158.3 L1319.5,1156 L1321,1153.9 L1322.5,1152 L1324,1150.3 L1325.5,1148.8 L1327,1147.5 L1328.5,1146.3 L1330,1145.4 L1331.5,1144.5 L1333,1143.9 L1334.5,1143.4 L1336,1143 L1337.5,1142.8 L1339,1142.8 L1340.5,1142.8 L1342,1143 L1343.5,1143.3 L1345,1143.7 L1346.5,1144.2 L1348,1144.8 L1349.5,1145.5 L1351,1146.3 L1352.5,1147.1 L1354,1148 L1355.5,1148.9 L1357,1150 L1358.6,1151 L1360.1,1152.1 L1361.6,1153.3 L1363.1,1154.4 L1364.6,1155.6 L1366.1,1156.8 L1367.6,1158.1 L1369.1,1159.4 L1370.6,1160.6 L1372.1,1161.9 L1373.6,1163.2 L1375.1,1164.5 L1376.6,1165.9 L1378.1,1167.2 L1379.6,1168.5 L1381.1,1169.9 L1382.6,1171.2 L1384.1,1172.6 L1385.6,1174 L1387.1,1175.3 L1388.6,1176.7 L1390.1,1178.1 L1391.6,1179.5 L1393.1,1180.9 L1394.6,1182.3 L1396.1,1183.8 L1397.6,1185.2 L1399.1,1186.7 L1400.6,1188.2 L1402.1,1189.7 L1403.6,1191.3 L1405.1,1192.8 L1406.6,1194.4 L1408.1,1196 L1409.6,1197.7 L1411.1,1199.4 L1412.6,1201.1 L1414.1,1202.8 L1415.6,1204.6 L1417.1,1206.4 L1418.6,1208.2 L1420.1,1210.1 L1421.6,1212 L1423.1,1213.9 L1424.6,1215.9 L1426.1,1217.9 L1427.6,1219.9 L1429.1,1222 L1430.6,1224.1 L1432.1,1226.2 L1433.7,1228.3 L1435.2,1230.4 L1436.7,1232.6 L1438.2,1234.8 L1439.7,1237 L1441.2,1239.2 L1442.7,1241.4 L1444.2,1243.6 L1445.7,1245.8 L1447.2,1248 L1448.7,1250.2 L1450.2,1252.4 L1451.7,1254.6 L1453.2,1256.8 L1454.7,1258.9 L1456.2,1261.1 L1457.7,1263.2 L1459.2,1265.3 L1460.7,1267.3 L1462.2,1269.3 L1463.7,1271.3 L1465.2,1273.2 L1466.7,1275.1 L1468.2,1277 L1469.7,1278.8 L1471.2,1280.6 L1472.7,1282.3 L1474.2,1283.9 L1475.7,1285.5 L1477.2,1287.1 L1478.7,1288.5 L1480.2,1289.9 L1481.7,1291.3 L1483.2,1292.6 L1484.7,1293.8 L1486.2,1294.9 L1487.7,1296 L1489.2,1297 L1490.7,1297.9 L1492.2,1298.8 L1493.7,1299.6 L1495.2,1300.3 L1496.7,1300.9 L1498.2,1301.5 L1499.7,1301.9 L1501.2,1302.3 L1502.7,1302.7 L1504.2,1302.9 L1505.7,1303.1 L1507.3,1303.2 L1508.8,1303.3 L1510.3,1303.2 L1511.8,1303.1 L1513.3,1303 L1514.8,1302.8 L1516.3,1302.5 L1517.8,1302.2 L1519.3,1301.9 L1520.8,1301.5 L1522.3,1301 L1523.8,1300.6 L1525.3,1300.1 L1526.8,1299.5 L1528.3,1299 L1529.8,1298.4 L1531.3,1297.9 L1532.8,1297.3 L1534.3,1296.7 L1535.8,1296.1 L1537.3,1295.5 L1538.8,1295 L1540.3,1294.4 L1541.8,1293.9 L1543.3,1293.3 L1544.8,1292.8 L1546.3,1292.3 L1547.8,1291.9 L1549.3,1291.5 L1550.8,1291.1 L1552.3,1290.7 L1553.8,1290.4 L1555.3,1290.1 L1556.8,1289.9 L1558.3,1289.7 L1559.8,1289.5 L1561.3,1289.3 L1562.8,1289.2 L1564.3,1289.2 L1565.8,1289.2 L1567.3,1289.2 L1568.8,1289.3 L1570.3,1289.4 L1571.8,1289.5 L1573.3,1289.7 L1574.8,1289.9 L1576.3,1290.1 L1577.8,1290.4 L1579.3,1290.8 L1580.9,1291.1 L1582.4,1291.5 L1583.9,1292 L1585.4,1292.4 L1586.9,1293 L1588.4,1293.5 L1589.9,1294.1 L1591.4,1294.7 L1592.9,1295.4 L1594.4,1296.1 L1595.9,1296.8 L1597.4,1297.6 L1598.9,1298.4 L1600.4,1299.2 L1601.9,1300.1 L1603.4,1301 L1604.9,1301.9 L1606.4,1302.9 L1607.9,1303.9 L1609.4,1304.9 L1610.9,1306 L1612.4,1307.1 L1613.9,1308.2 L1615.4,1309.4 L1616.9,1310.5 L1618.4,1311.7 L1619.9,1313 L1621.4,1314.2 L1622.9,1315.5 L1624.4,1316.8 L1625.9,1318.1 L1627.4,1319.4 L1628.9,1320.7 L1630.4,1322.1 L1631.9,1323.5 L1633.4,1324.9 L1634.9,1326.3 L1636.4,1327.7 L1637.9,1329.1 L1639.4,1330.5 L1640.9,1332 L1642.4,1333.4 L1643.9,1334.9 L1645.4,1336.4 L1646.9,1337.9 L1648.4,1339.4 L1649.9,1340.9 L1651.4,1342.4 L1652.9,1343.9 L1654.4,1345.4 L1656,1347 L1657.5,1348.5 L1659,1350.1 L1660.5,1351.6 L1662,1353.2 L1663.5,1354.7 L1665,1356.3 L1666.5,1357.9 L1668,1359.5 L1669.5,1361 L1671,1362.6 L1672.5,1364.2 L1674,1365.8 L1675.5,1367.4 L1677,1368.9 L1678.5,1370.5 L1680,1372.1 L1681.5,1373.6 L1683,1375.1 L1684.5,1376.7 L1686,1378.2 L1687.5,1379.7 L1689,1381.1 L1690.5,1382.6 L1692,1384 L1693.5,1385.4 L1695,1386.8 L1696.5,1388.2 L1698,1389.5 L1699.5,1390.8 L1701,1392 L1702.5,1393.3 L1704,1394.5 L1705.5,1395.6 L1707,1396.8 L1708.5,1397.8 L1710,1398.9 L1711.5,1399.9 L1713,1400.9 L1714.5,1401.8 L1716,1402.7 L1717.5,1403.6 L1719,1404.4 L1720.5,1405.2 L1722,1405.9 L1723.5,1406.6 L1725,1407.3 L1726.5,1407.9 L1728,1408.5 L1729.6,1409.1 L1731.1,1409.6 L1732.6,1410.1 L1734.1,1410.6 L1735.6,1411 L1737.1,1411.4 L1738.6,1411.8 L1740.1,1412.2 L1741.6,1412.5 L1743.1,1412.8 L1744.6,1413.1 L1746.1,1413.3 L1747.6,1413.6 L1749.1,1413.8 L1750.6,1414 L1752.1,1414.2 L1753.6,1414.4 L1755.1,1414.5 L1756.6,1414.7 L1758.1,1414.8 L1759.6,1414.9 L1761.1,1415 L1762.6,1415.1 L1764.1,1415.2 L1765.6,1415.3 L1765.6,1415.7 L1247.4,1415.7 Z" fill="#7ad151" fill-opacity="0.19" stroke="none"/>
<path d="M1247.4,1357 L1248.9,1353.8 L1250.4,1350.5 L1251.9,1347.1 L1253.4,1343.5 L1254.9,1339.8 L1256.4,1336.1 L1257.9,1332.2 L1259.4,1328.2 L1260.9,1324.1 L1262.4,1319.8 L1263.9,1315.5 L1265.4,1311.1 L1266.9,1306.6 L1268.4,1301.9 L1269.9,1297.2 L1271.4,1292.5 L1272.9,1287.6 L1274.4,1282.7 L1275.9,1277.8 L1277.4,1272.8 L1278.9,1267.7 L1280.4,1262.7 L1281.9,1257.6 L1283.4,1252.5 L1285,1247.4 L1286.5,1242.3 L1288,1237.3 L1289.5,1232.3 L1291,1227.4 L1292.5,1222.5 L1294,1217.7 L1295.5,1212.9 L1297,1208.3 L1298.5,1203.7 L1300,1199.3 L1301.5,1195 L1303,1190.9 L1304.5,1186.9 L1306,1183 L1307.5,1179.3 L1309,1175.8 L1310.5,1172.4 L1312,1169.2 L1313.5,1166.2 L1315,1163.4 L1316.5,1160.7 L1318,1158.3 L1319.5,1156 L1321,1153.9 L1322.5,1152 L1324,1150.3 L1325.5,1148.8 L1327,1147.5 L1328.5,1146.3 L1330,1145.4 L1331.5,1144.5 L1333,1143.9 L1334.5,1143.4 L1336,1143 L1337.5,1142.8 L1339,1142.8 L1340.5,1142.8 L1342,1143 L1343.5,1143.3 L1345,1143.7 L1346.5,1144.2 L1348,1144.8 L1349.5,1145.5 L1351,1146.3 L1352.5,1147.1 L1354,1148 L1355.5,1148.9 L1357,1150 L1358.6,1151 L1360.1,1152.1 L1361.6,1153.3 L1363.1,1154.4 L1364.6,1155.6 L1366.1,1156.8 L1367.6,1158.1 L1369.1,1159.4 L1370.6,1160.6 L1372.1,1161.9 L1373.6,1163.2 L1375.1,1164.5 L1376.6,1165.9 L1378.1,1167.2 L1379.6,1168.5 L1381.1,1169.9 L1382.6,1171.2 L1384.1,1172.6 L1385.6,1174 L1387.1,1175.3 L1388.6,1176.7 L1390.1,1178.1 L1391.6,1179.5 L1393.1,1180.9 L1394.6,1182.3 L1396.1,1183.8 L1397.6,1185.2 L1399.1,1186.7 L1400.6,1188.2 L1402.1,1189.7 L1403.6,1191.3 L1405.1,1192.8 L1406.6,1194.4 L1408.1,1196 L1409.6,1197.7 L1411.1,1199.4 L1412.6,1201.1 L1414.1,1202.8 L1415.6,1204.6 L1417.1,1206.4 L1418.6,1208.2 L1420.1,1210.1 L1421.6,1212 L1423.1,1213.9 L1424.6,1215.9 L1426.1,1217.9 L1427.6,1219.9 L1429.1,1222 L1430.6,1224.1 L1432.1,1226.2 L1433.7,1228.3 L1435.2,1230.4 L1436.7,1232.6 L1438.2,1234.8 L1439.7,1237 L1441.2,1239.2 L1442.7,1241.4 L1444.2,1243.6 L1445.7,1245.8 L1447.2,1248 L1448.7,1250.2 L1450.2,1252.4 L1451.7,1254.6 L1453.2,1256.8 L1454.7,1258.9 L1456.2,1261.1 L1457.7,1263.2 L1459.2,1265.3 L1460.7,1267.3 L1462.2,1269.3 L1463.7,1271.3 L1465.2,1273.2 L1466.7,1275.1 L1468.2,1277 L1469.7,1278.8 L1471.2,1280.6 L1472.7,1282.3 L1474.2,1283.9 L1475.7,1285.5 L1477.2,1287.1 L1478.7,1288.5 L1480.2,1289.9 L1481.7,1291.3 L1483.2,1292.6 L1484.7,1293.8 L1486.2,1294.9 L1487.7,1296 L1489.2,1297 L1490.7,1297.9 L1492.2,1298.8 L1493.7,1299.6 L1495.2,1300.3 L1496.7,1300.9 L1498.2,1301.5 L1499.7,1301.9 L1501.2,1302.3 L1502.7,1302.7 L1504.2,1302.9 L1505.7,1303.1 L1507.3,1303.2 L1508.8,1303.3 L1510.3,1303.2 L1511.8,1303.1 L1513.3,1303 L1514.8,1302.8 L1516.3,1302.5 L1517.8,1302.2 L1519.3,1301.9 L1520.8,1301.5 L1522.3,1301 L1523.8,1300.6 L1525.3,1300.1 L1526.8,1299.5 L1528.3,1299 L1529.8,1298.4 L1531.3,1297.9 L1532.8,1297.3 L1534.3,1296.7 L1535.8,1296.1 L1537.3,1295.5 L1538.8,1295 L1540.3,1294.4 L1541.8,1293.9 L1543.3,1293.3 L1544.8,1292.8 L1546.3,1292.3 L1547.8,1291.9 L1549.3,1291.5 L1550.8,1291.1 L1552.3,1290.7 L1553.8,1290.4 L1555.3,1290.1 L1556.8,1289.9 L1558.3,1289.7 L1559.8,1289.5 L1561.3,1289.3 L1562.8,1289.2 L1564.3,1289.2 L1565.8,1289.2 L1567.3,1289.2 L1568.8,1289.3 L1570.3,1289.4 L1571.8,1289.5 L1573.3,1289.7 L1574.8,1289.9 L1576.3,1290.1 L1577.8,1290.4 L1579.3,1290.8 L1580.9,1291.1 L1582.4,1291.5 L1583.9,1292 L1585.4,1292.4 L1586.9,1293 L1588.4,1293.5 L1589.9,1294.1 L1591.4,1294.7 L1592.9,1295.4 L1594.4,1296.1 L1595.9,1296.8 L1597.4,1297.6 L1598.9,1298.4 L1600.4,1299.2 L1601.9,1300.1 L1603.4,1301 L1604.9,1301.9 L1606.4,1302.9 L1607.9,1303.9 L1609.4,1304.9 L1610.9,1306 L1612.4,1307.1 L1613.9,1308.2 L1615.4,1309.4 L1616.9,1310.5 L1618.4,1311.7 L1619.9,1313 L1621.4,1314.2 L1622.9,1315.5 L1624.4,1316.8 L1625.9,1318.1 L1627.4,1319.4 L1628.9,1320.7 L1630.4,1322.1 L1631.9,1323.5 L1633.4,1324.9 L1634.9,1326.3 L1636.4,1327.7 L1637.9,1329.1 L1639.4,1330.5 L1640.9,1332 L1642.4,1333.4 L1643.9,1334.9 L1645.4,1336.4 L1646.9,1337.9 L1648.4,1339.4 L1649.9,1340.9 L1651.4,1342.4 L1652.9,1343.9 L1654.4,1345.4 L1656,1347 L1657.5,1348.5 L1659,1350.1 L1660.5,1351.6 L1662,1353.2 L1663.5,1354.7 L1665,1356.3 L1666.5,1357.9 L1668,1359.5 L1669.5,1361 L1671,1362.6 L1672.5,1364.2 L1674,1365.8 L1675.5,1367.4 L1677,1368.9 L1678.5,1370.5 L1680,1372.1 L1681.5,1373.6 L1683,1375.1 L1684.5,1376.7 L1686,1378.2 L1687.5,1379.7 L1689,1381.1 L1690.5,1382.6 L1692,1384 L1693.5,1385.4 L1695,1386.8 L1696.5,1388.2 L1698,1389.5 L1699.5,1390.8 L1701,1392 L1702.5,1393.3 L1704,1394.5 L1705.5,1395.6 L1707,1396.8 L1708.5,1397.8 L1710,1398.9 L1711.5,1399.9 L1713,1400.9 L1714.5,1401.8 L1716,1402.7 L1717.5,1403.6 L1719,1404.4 L1720.5,1405.2 L1722,1405.9 L1723.5,1406.6 L1725,1407.3 L1726.5,1407.9 L1728,1408.5 L1729.6,1409.1 L1731.1,1409.6 L1732.6,1410.1 L1734.1,1410.6 L1735.6,1411 L1737.1,1411.4 L1738.6,1411.8 L1740.1,1412.2 L1741.6,1412.5 L1743.1,1412.8 L1744.6,1413.1 L1746.1,1413.3 L1747.6,1413.6 L1749.1,1413.8 L1750.6,1414 L1752.1,1414.2 L1753.6,1414.4 L1755.1,1414.5 L1756.6,1414.7 L1758.1,1414.8 L1759.6,1414.9 L1761.1,1415 L1762.6,1415.1 L1764.1,1415.2 L1765.6,1415.3" fill="none" stroke="#6cc644" stroke-width="2.7" stroke-linejoin="round" stroke-linecap="round"/>
<path d="M1247.4,1365.8 L1248.9,1361.7 L1250.4,1357.4 L1251.9,1352.9 L1253.4,1348.2 L1254.9,1343.2 L1256.4,1338 L1257.9,1332.7 L1259.4,1327.1 L1260.9,1321.3 L1262.4,1315.3 L1263.9,1309.2 L1265.4,1302.9 L1266.9,1296.4 L1268.4,1289.7 L1269.9,1282.9 L1271.4,1276 L1272.9,1269 L1274.4,1261.8 L1275.9,1254.6 L1277.4,1247.3 L1278.9,1240 L1280.4,1232.6 L1281.9,1225.2 L1283.4,1217.8 L1285,1210.4 L1286.5,1203 L1288,1195.7 L1289.5,1188.4 L1291,1181.2 L1292.5,1174.1 L1294,1167 L1295.5,1160.1 L1297,1153.3 L1298.5,1146.6 L1300,1140.1 L1301.5,1133.7 L1303,1127.4 L1304.5,1121.4 L1306,1115.5 L1307.5,1109.7 L1309,1104.2 L1310.5,1098.8 L1312,1093.7 L1313.5,1088.7 L1315,1084 L1316.5,1079.4 L1318,1075.1 L1319.5,1070.9 L1321,1067 L1322.5,1063.2 L1324,1059.7 L1325.5,1056.4 L1327,1053.3 L1328.5,1050.4 L1330,1047.7 L1331.5,1045.1 L1333,1042.8 L1334.5,1040.7 L1336,1038.7 L1337.5,1037 L1339,1035.4 L1340.5,1034 L1342,1032.7 L1343.5,1031.6 L1345,1030.6 L1346.5,1029.8 L1348,1029.1 L1349.5,1028.6 L1351,1028.2 L1352.5,1027.9 L1354,1027.7 L1355.5,1027.6 L1357,1027.6 L1358.6,1027.7 L1360.1,1027.9 L1361.6,1028.1 L1363.1,1028.5 L1364.6,1029 L1366.1,1029.5 L1367.6,1030.1 L1369.1,1030.9 L1370.6,1031.7 L1372.1,1032.7 L1373.6,1033.7 L1375.1,1034.9 L1376.6,1036.2 L1378.1,1037.7 L1379.6,1039.3 L1381.1,1041.1 L1382.6,1043 L1384.1,1045.1 L1385.6,1047.5 L1387.1,1050 L1388.6,1052.7 L1390.1,1055.7 L1391.6,1058.9 L1393.1,1062.3 L1394.6,1066 L1396.1,1069.9 L1397.6,1074.1 L1399.1,1078.5 L1400.6,1083.1 L1402.1,1088 L1403.6,1093.1 L1405.1,1098.4 L1406.6,1103.9 L1408.1,1109.6 L1409.6,1115.4 L1411.1,1121.4 L1412.6,1127.5 L1414.1,1133.8 L1415.6,1140.1 L1417.1,1146.5 L1418.6,1153 L1420.1,1159.4 L1421.6,1165.9 L1423.1,1172.3 L1424.6,1178.6 L1426.1,1184.9 L1427.6,1191.1 L1429.1,1197.2 L1430.6,1203.1 L1432.1,1208.9 L1433.7,1214.4 L1435.2,1219.8 L1436.7,1225 L1438.2,1230 L1439.7,1234.8 L1441.2,1239.3 L1442.7,1243.6 L1444.2,1247.7 L1445.7,1251.5 L1447.2,1255.1 L1448.7,1258.4 L1450.2,1261.6 L1451.7,1264.5 L1453.2,1267.2 L1454.7,1269.7 L1456.2,1272 L1457.7,1274.1 L1459.2,1276 L1460.7,1277.8 L1462.2,1279.4 L1463.7,1280.9 L1465.2,1282.2 L1466.7,1283.5 L1468.2,1284.6 L1469.7,1285.7 L1471.2,1286.7 L1472.7,1287.6 L1474.2,1288.5 L1475.7,1289.3 L1477.2,1290.1 L1478.7,1290.9 L1480.2,1291.6 L1481.7,1292.4 L1483.2,1293.2 L1484.7,1294 L1486.2,1294.8 L1487.7,1295.6 L1489.2,1296.5 L1490.7,1297.4 L1492.2,1298.3 L1493.7,1299.3 L1495.2,1300.3 L1496.7,1301.4 L1498.2,1302.6 L1499.7,1303.8 L1501.2,1305.1 L1502.7,1306.4 L1504.2,1307.8 L1505.7,1309.2 L1507.3,1310.7 L1508.8,1312.3 L1510.3,1313.9 L1511.8,1315.6 L1513.3,1317.3 L1514.8,1319.1 L1516.3,1320.9 L1517.8,1322.7 L1519.3,1324.6 L1520.8,1326.6 L1522.3,1328.5 L1523.8,1330.5 L1525.3,1332.6 L1526.8,1334.6 L1528.3,1336.6 L1529.8,1338.7 L1531.3,1340.7 L1532.8,1342.8 L1534.3,1344.8 L1535.8,1346.8 L1537.3,1348.8 L1538.8,1350.8 L1540.3,1352.7 L1541.8,1354.6 L1543.3,1356.5 L1544.8,1358.3 L1546.3,1360 L1547.8,1361.8 L1549.3,1363.4 L1550.8,1365 L1552.3,1366.6 L1553.8,1368.1 L1555.3,1369.5 L1556.8,1370.9 L1558.3,1372.2 L1559.8,1373.5 L1561.3,1374.7 L1562.8,1375.8 L1564.3,1376.9 L1565.8,1377.9 L1567.3,1378.8 L1568.8,1379.7 L1570.3,1380.6 L1571.8,1381.4 L1573.3,1382.1 L1574.8,1382.8 L1576.3,1383.4 L1577.8,1384 L1579.3,1384.6 L1580.9,1385.1 L1582.4,1385.6 L1583.9,1386.1 L1585.4,1386.5 L1586.9,1386.9 L1588.4,1387.3 L1589.9,1387.7 L1591.4,1388 L1592.9,1388.4 L1594.4,1388.7 L1595.9,1389 L1597.4,1389.3 L1598.9,1389.6 L1600.4,1389.9 L1601.9,1390.2 L1603.4,1390.6 L1604.9,1390.9 L1606.4,1391.2 L1607.9,1391.5 L1609.4,1391.9 L1610.9,1392.3 L1612.4,1392.6 L1613.9,1393 L1615.4,1393.4 L1616.9,1393.9 L1618.4,1394.3 L1619.9,1394.8 L1621.4,1395.2 L1622.9,1395.7 L1624.4,1396.2 L1625.9,1396.8 L1627.4,1397.3 L1628.9,1397.8 L1630.4,1398.4 L1631.9,1399 L1633.4,1399.5 L1634.9,1400.1 L1636.4,1400.7 L1637.9,1401.3 L1639.4,1401.9 L1640.9,1402.5 L1642.4,1403.1 L1643.9,1403.6 L1645.4,1404.2 L1646.9,1404.8 L1648.4,1405.4 L1649.9,1405.9 L1651.4,1406.5 L1652.9,1407 L1654.4,1407.5 L1656,1408 L1657.5,1408.5 L1659,1409 L1660.5,1409.4 L1662,1409.9 L1663.5,1410.3 L1665,1410.7 L1666.5,1411.1 L1668,1411.4 L1669.5,1411.8 L1671,1412.1 L1672.5,1412.4 L1674,1412.7 L1675.5,1413 L1677,1413.2 L1678.5,1413.5 L1680,1413.7 L1681.5,1413.9 L1683,1414.1 L1684.5,1414.3 L1686,1414.4 L1687.5,1414.6 L1689,1414.7 L1690.5,1414.8 L1692,1414.9 L1693.5,1415 L1695,1415.1 L1696.5,1415.2 L1698,1415.3 L1699.5,1415.4 L1701,1415.4 L1702.5,1415.5 L1704,1415.5 L1705.5,1415.6 L1707,1415.6 L1708.5,1415.7 L1710,1415.7 L1711.5,1415.7 L1713,1415.7 L1714.5,1415.7 L1716,1415.7 L1717.5,1415.7 L1719,1415.7 L1720.5,1415.7 L1722,1415.7 L1723.5,1415.7 L1725,1415.7 L1726.5,1415.7 L1728,1415.7 L1729.6,1415.7 L1731.1,1415.7 L1732.6,1415.7 L1734.1,1415.7 L1735.6,1415.7 L1737.1,1415.7 L1738.6,1415.7 L1740.1,1415.7 L1741.6,1415.7 L1743.1,1415.7 L1744.6,1415.7 L1746.1,1415.7 L1747.6,1415.7 L1749.1,1415.7 L1750.6,1415.7 L1752.1,1415.7 L1753.6,1415.7 L1755.1,1415.7 L1756.6,1415.7 L1758.1,1415.7 L1759.6,1415.7 L1761.1,1415.7 L1762.6,1415.7 L1764.1,1415.7 L1765.6,1415.7 L1765.6,1415.7 L1247.4,1415.7 Z" fill="#35608d" fill-opacity="0.18" stroke="none"/>
<path d="M1247.4,1365.8 L1248.9,1361.7 L1250.4,1357.4 L1251.9,1352.9 L1253.4,1348.2 L1254.9,1343.2 L1256.4,1338 L1257.9,1332.7 L1259.4,1327.1 L1260.9,1321.3 L1262.4,1315.3 L1263.9,1309.2 L1265.4,1302.9 L1266.9,1296.4 L1268.4,1289.7 L1269.9,1282.9 L1271.4,1276 L1272.9,1269 L1274.4,1261.8 L1275.9,1254.6 L1277.4,1247.3 L1278.9,1240 L1280.4,1232.6 L1281.9,1225.2 L1283.4,1217.8 L1285,1210.4 L1286.5,1203 L1288,1195.7 L1289.5,1188.4 L1291,1181.2 L1292.5,1174.1 L1294,1167 L1295.5,1160.1 L1297,1153.3 L1298.5,1146.6 L1300,1140.1 L1301.5,1133.7 L1303,1127.4 L1304.5,1121.4 L1306,1115.5 L1307.5,1109.7 L1309,1104.2 L1310.5,1098.8 L1312,1093.7 L1313.5,1088.7 L1315,1084 L1316.5,1079.4 L1318,1075.1 L1319.5,1070.9 L1321,1067 L1322.5,1063.2 L1324,1059.7 L1325.5,1056.4 L1327,1053.3 L1328.5,1050.4 L1330,1047.7 L1331.5,1045.1 L1333,1042.8 L1334.5,1040.7 L1336,1038.7 L1337.5,1037 L1339,1035.4 L1340.5,1034 L1342,1032.7 L1343.5,1031.6 L1345,1030.6 L1346.5,1029.8 L1348,1029.1 L1349.5,1028.6 L1351,1028.2 L1352.5,1027.9 L1354,1027.7 L1355.5,1027.6 L1357,1027.6 L1358.6,1027.7 L1360.1,1027.9 L1361.6,1028.1 L1363.1,1028.5 L1364.6,1029 L1366.1,1029.5 L1367.6,1030.1 L1369.1,1030.9 L1370.6,1031.7 L1372.1,1032.7 L1373.6,1033.7 L1375.1,1034.9 L1376.6,1036.2 L1378.1,1037.7 L1379.6,1039.3 L1381.1,1041.1 L1382.6,1043 L1384.1,1045.1 L1385.6,1047.5 L1387.1,1050 L1388.6,1052.7 L1390.1,1055.7 L1391.6,1058.9 L1393.1,1062.3 L1394.6,1066 L1396.1,1069.9 L1397.6,1074.1 L1399.1,1078.5 L1400.6,1083.1 L1402.1,1088 L1403.6,1093.1 L1405.1,1098.4 L1406.6,1103.9 L1408.1,1109.6 L1409.6,1115.4 L1411.1,1121.4 L1412.6,1127.5 L1414.1,1133.8 L1415.6,1140.1 L1417.1,1146.5 L1418.6,1153 L1420.1,1159.4 L1421.6,1165.9 L1423.1,1172.3 L1424.6,1178.6 L1426.1,1184.9 L1427.6,1191.1 L1429.1,1197.2 L1430.6,1203.1 L1432.1,1208.9 L1433.7,1214.4 L1435.2,1219.8 L1436.7,1225 L1438.2,1230 L1439.7,1234.8 L1441.2,1239.3 L1442.7,1243.6 L1444.2,1247.7 L1445.7,1251.5 L1447.2,1255.1 L1448.7,1258.4 L1450.2,1261.6 L1451.7,1264.5 L1453.2,1267.2 L1454.7,1269.7 L1456.2,1272 L1457.7,1274.1 L1459.2,1276 L1460.7,1277.8 L1462.2,1279.4 L1463.7,1280.9 L1465.2,1282.2 L1466.7,1283.5 L1468.2,1284.6 L1469.7,1285.7 L1471.2,1286.7 L1472.7,1287.6 L1474.2,1288.5 L1475.7,1289.3 L1477.2,1290.1 L1478.7,1290.9 L1480.2,1291.6 L1481.7,1292.4 L1483.2,1293.2 L1484.7,1294 L1486.2,1294.8 L1487.7,1295.6 L1489.2,1296.5 L1490.7,1297.4 L1492.2,1298.3 L1493.7,1299.3 L1495.2,1300.3 L1496.7,1301.4 L1498.2,1302.6 L1499.7,1303.8 L1501.2,1305.1 L1502.7,1306.4 L1504.2,1307.8 L1505.7,1309.2 L1507.3,1310.7 L1508.8,1312.3 L1510.3,1313.9 L1511.8,1315.6 L1513.3,1317.3 L1514.8,1319.1 L1516.3,1320.9 L1517.8,1322.7 L1519.3,1324.6 L1520.8,1326.6 L1522.3,1328.5 L1523.8,1330.5 L1525.3,1332.6 L1526.8,1334.6 L1528.3,1336.6 L1529.8,1338.7 L1531.3,1340.7 L1532.8,1342.8 L1534.3,1344.8 L1535.8,1346.8 L1537.3,1348.8 L1538.8,1350.8 L1540.3,1352.7 L1541.8,1354.6 L1543.3,1356.5 L1544.8,1358.3 L1546.3,1360 L1547.8,1361.8 L1549.3,1363.4 L1550.8,1365 L1552.3,1366.6 L1553.8,1368.1 L1555.3,1369.5 L1556.8,1370.9 L1558.3,1372.2 L1559.8,1373.5 L1561.3,1374.7 L1562.8,1375.8 L1564.3,1376.9 L1565.8,1377.9 L1567.3,1378.8 L1568.8,1379.7 L1570.3,1380.6 L1571.8,1381.4 L1573.3,1382.1 L1574.8,1382.8 L1576.3,1383.4 L1577.8,1384 L1579.3,1384.6 L1580.9,1385.1 L1582.4,1385.6 L1583.9,1386.1 L1585.4,1386.5 L1586.9,1386.9 L1588.4,1387.3 L1589.9,1387.7 L1591.4,1388 L1592.9,1388.4 L1594.4,1388.7 L1595.9,1389 L1597.4,1389.3 L1598.9,1389.6 L1600.4,1389.9 L1601.9,1390.2 L1603.4,1390.6 L1604.9,1390.9 L1606.4,1391.2 L1607.9,1391.5 L1609.4,1391.9 L1610.9,1392.3 L1612.4,1392.6 L1613.9,1393 L1615.4,1393.4 L1616.9,1393.9 L1618.4,1394.3 L1619.9,1394.8 L1621.4,1395.2 L1622.9,1395.7 L1624.4,1396.2 L1625.9,1396.8 L1627.4,1397.3 L1628.9,1397.8 L1630.4,1398.4 L1631.9,1399 L1633.4,1399.5 L1634.9,1400.1 L1636.4,1400.7 L1637.9,1401.3 L1639.4,1401.9 L1640.9,1402.5 L1642.4,1403.1 L1643.9,1403.6 L1645.4,1404.2 L1646.9,1404.8 L1648.4,1405.4 L1649.9,1405.9 L1651.4,1406.5 L1652.9,1407 L1654.4,1407.5 L1656,1408 L1657.5,1408.5 L1659,1409 L1660.5,1409.4 L1662,1409.9 L1663.5,1410.3 L1665,1410.7 L1666.5,1411.1 L1668,1411.4 L1669.5,1411.8 L1671,1412.1 L1672.5,1412.4 L1674,1412.7 L1675.5,1413 L1677,1413.2 L1678.5,1413.5 L1680,1413.7 L1681.5,1413.9 L1683,1414.1 L1684.5,1414.3 L1686,1414.4 L1687.5,1414.6 L1689,1414.7 L1690.5,1414.8 L1692,1414.9 L1693.5,1415 L1695,1415.1 L1696.5,1415.2 L1698,1415.3 L1699.5,1415.4 L1701,1415.4 L1702.5,1415.5 L1704,1415.5 L1705.5,1415.6 L1707,1415.6 L1708.5,1415.7 L1710,1415.7 L1711.5,1415.7 L1713,1415.7 L1714.5,1415.7 L1716,1415.7 L1717.5,1415.7 L1719,1415.7 L1720.5,1415.7 L1722,1415.7 L1723.5,1415.7 L1725,1415.7 L1726.5,1415.7 L1728,1415.7 L1729.6,1415.7 L1731.1,1415.7 L1732.6,1415.7 L1734.1,1415.7 L1735.6,1415.7 L1737.1,1415.7 L1738.6,1415.7 L1740.1,1415.7 L1741.6,1415.7 L1743.1,1415.7 L1744.6,1415.7 L1746.1,1415.7 L1747.6,1415.7 L1749.1,1415.7 L1750.6,1415.7 L1752.1,1415.7 L1753.6,1415.7 L1755.1,1415.7 L1756.6,1415.7 L1758.1,1415.7 L1759.6,1415.7 L1761.1,1415.7 L1762.6,1415.7 L1764.1,1415.7 L1765.6,1415.7" fill="none" stroke="#2d5a87" stroke-width="2.7" stroke-linejoin="round" stroke-linecap="round"/>
<path d="M426.5,125.2 H465 M627,125.2 H724.5" stroke="#606060" stroke-width="1.3" fill="none"/>
<rect x="465" y="96" width="162" height="58.3" fill="#36608e" stroke="#3a3a3a" stroke-width="1"/>
<path d="M546,96 V154.3" stroke="#2b2b2b" stroke-width="1.9" fill="none"/>
<path d="M374,203.7 H513.3 M622.3,203.7 H714.5" stroke="#606060" stroke-width="1.3" fill="none"/>
<rect x="513.3" y="174.3" width="109" height="58.7" fill="#7ad151" stroke="#3a3a3a" stroke-width="1"/>
<path d="M553.3,174.3 V233" stroke="#2b2b2b" stroke-width="1.9" fill="none"/>
<path d="M1269.9,135.7 H1323 M1433.3,135.7 H1572" stroke="#606060" stroke-width="1.3" fill="none"/>
<rect x="1323" y="106.4" width="110.3" height="58.6" fill="#36608e" stroke="#3a3a3a" stroke-width="1"/>
<path d="M1373.7,106.4 V165" stroke="#2b2b2b" stroke-width="1.9" fill="none"/>
<circle cx="1606.7" cy="135.7" r="1.9" fill="#2e2e2e"/>
<circle cx="1613.8" cy="135.7" r="1.9" fill="#2e2e2e"/>
<circle cx="1661.5" cy="135.7" r="1.9" fill="#2e2e2e"/>
<circle cx="1666" cy="135.7" r="1.9" fill="#2e2e2e"/>
<circle cx="1695" cy="135.7" r="1.9" fill="#2e2e2e"/>
<path d="M1265.8,214.1 H1349.3 M1474.6,214.1 H1655.7" stroke="#606060" stroke-width="1.3" fill="none"/>
<rect x="1349.3" y="184.6" width="125.3" height="58.9" fill="#7ad151" stroke="#3a3a3a" stroke-width="1"/>
<path d="M1396.2,184.6 V243.5" stroke="#2b2b2b" stroke-width="1.9" fill="none"/>
<circle cx="1668" cy="214.1" r="1.9" fill="#2e2e2e"/>
<circle cx="1671" cy="214.1" r="1.9" fill="#2e2e2e"/>
<path d="M426.2,851.9 H483.4 M611.4,851.9 H721.9" stroke="#606060" stroke-width="1.3" fill="none"/>
<rect x="483.4" y="822.4" width="128" height="59" fill="#36608e" stroke="#3a3a3a" stroke-width="1"/>
<path d="M545.4,822.4 V881.4" stroke="#2b2b2b" stroke-width="1.9" fill="none"/>
<path d="M440.8,930.4 H517.9 M648.7,930.4 H717.7" stroke="#606060" stroke-width="1.3" fill="none"/>
<rect x="517.9" y="900.9" width="130.8" height="59" fill="#7ad151" stroke="#3a3a3a" stroke-width="1"/>
<path d="M591.8,900.9 V959.9" stroke="#2b2b2b" stroke-width="1.9" fill="none"/>
<path d="M1275.2,846.2 H1330.1 M1416.6,846.2 H1530.4" stroke="#606060" stroke-width="1.3" fill="none"/>
<rect x="1330.1" y="818" width="86.5" height="56.5" fill="#36608e" stroke="#3a3a3a" stroke-width="1"/>
<path d="M1374.5,818 V874.5" stroke="#2b2b2b" stroke-width="1.9" fill="none"/>
<circle cx="1574.8" cy="846.2" r="1.9" fill="#2e2e2e"/>
<circle cx="1597.8" cy="846.2" r="1.9" fill="#2e2e2e"/>
<circle cx="1628.7" cy="846.2" r="1.9" fill="#2e2e2e"/>
<path d="M1286.4,922 H1330.1 M1528.1,922 H1663.9" stroke="#606060" stroke-width="1.3" fill="none"/>
<rect x="1330.1" y="893.6" width="198" height="56.9" fill="#7ad151" stroke="#3a3a3a" stroke-width="1"/>
<path d="M1402.8,893.6 V950.5" stroke="#2b2b2b" stroke-width="1.9" fill="none"/>
<path d="M822.1,144.4 H834.4 V191.4 H822.1" fill="none" stroke="#000" stroke-width="3.8" stroke-linejoin="miter"/>
<path d="M1744.4,144.5 H1756.7 V191.8 H1744.4" fill="none" stroke="#000" stroke-width="3.8" stroke-linejoin="miter"/>
<path d="M830.5,865.7 H843.1 V912.9 H830.5" fill="none" stroke="#000" stroke-width="3.8" stroke-linejoin="miter"/>
<path d="M1744.8,865.9 H1757 V912.4 H1744.8" fill="none" stroke="#000" stroke-width="3.8" stroke-linejoin="miter"/>
<text x="530.6" y="47.8" font-size="37.3" text-anchor="middle" font-weight="bold" fill="#000">Plasma</text>
<text x="1482" y="45.9" font-size="38" text-anchor="middle" font-weight="bold" fill="#000">Urine</text>
<text x="1005.6" y="48.2" font-size="47.3" text-anchor="middle" font-weight="bold" fill="#000">A</text>
<text x="1083" y="48.3" font-size="47.3" text-anchor="middle" font-weight="bold" fill="#000">C</text>
<text x="1019.3" y="847.8" font-size="47.3" text-anchor="middle" font-weight="bold" fill="#000">B</text>
<text x="1084" y="847.8" font-size="47.3" text-anchor="middle" font-weight="bold" fill="#000">D</text>
<text x="20.1" y="515.7" font-size="37.5" text-anchor="start" font-weight="bold" fill="#000">V3</text>
<text x="20.1" y="1203.5" font-size="37.5" text-anchor="start" font-weight="bold" fill="#000">V7</text>
<text x="952.5" y="85.7" font-size="26" text-anchor="middle" font-weight="normal" fill="#000">n</text>
<text x="952.2" y="136.5" font-size="23" text-anchor="middle" font-weight="normal" fill="#000">80</text>
<text x="952.2" y="209.3" font-size="23" text-anchor="middle" font-weight="normal" fill="#000">80</text>
<text x="1902.7" y="87.6" font-size="26" text-anchor="middle" font-weight="normal" fill="#000">n</text>
<text x="1903.2" y="139.9" font-size="23" text-anchor="middle" font-weight="normal" fill="#000">86</text>
<text x="1903.2" y="217" font-size="23" text-anchor="middle" font-weight="normal" fill="#000">77</text>
<text x="851.9" y="177" font-size="26.5" text-anchor="start" font-weight="normal" fill="#000">n.s.</text>
<text x="1774" y="177.4" font-size="26.5" text-anchor="start" font-weight="normal" fill="#000">n.s.</text>
<text x="860.6" y="898.6" font-size="26.3" text-anchor="start" font-weight="normal" fill="#000">p &lt; .05</text>
<text x="1767" y="898.5" font-size="26.3" text-anchor="start" font-weight="normal" fill="#000">p &lt; .005</text>
<text x="341" y="375.4" font-size="23.5" text-anchor="end" font-weight="normal" fill="#4d4d4d">0.006</text>
<text x="341" y="504.8" font-size="23.5" text-anchor="end" font-weight="normal" fill="#4d4d4d">0.004</text>
<text x="341" y="634.2" font-size="23.5" text-anchor="end" font-weight="normal" fill="#4d4d4d">0.002</text>
<text x="341" y="763.8" font-size="23.5" text-anchor="end" font-weight="normal" fill="#4d4d4d">0.000</text>
<text x="341" y="1046.8" font-size="23.5" text-anchor="end" font-weight="normal" fill="#4d4d4d">0.006</text>
<text x="341" y="1176.2" font-size="23.5" text-anchor="end" font-weight="normal" fill="#4d4d4d">0.004</text>
<text x="341" y="1305.6" font-size="23.5" text-anchor="end" font-weight="normal" fill="#4d4d4d">0.002</text>
<text x="341" y="1435.2" font-size="23.5" text-anchor="end" font-weight="normal" fill="#4d4d4d">0.000</text>
<text x="1219" y="347.9" font-size="25.3" text-anchor="end" font-weight="normal" fill="#4d4d4d">0.75</text>
<text x="1219" y="487.6" font-size="25.3" text-anchor="end" font-weight="normal" fill="#4d4d4d">0.50</text>
<text x="1219" y="627.2" font-size="25.3" text-anchor="end" font-weight="normal" fill="#4d4d4d">0.25</text>
<text x="1219" y="766.6" font-size="25.3" text-anchor="end" font-weight="normal" fill="#4d4d4d">0.00</text>
<text x="1217.3" y="1016.2" font-size="25.3" text-anchor="end" font-weight="normal" fill="#4d4d4d">0.75</text>
<text x="1217.3" y="1152.8" font-size="25.3" text-anchor="end" font-weight="normal" fill="#4d4d4d">0.50</text>
<text x="1217.3" y="1289.3" font-size="25.3" text-anchor="end" font-weight="normal" fill="#4d4d4d">0.25</text>
<text x="1217.3" y="1425.8" font-size="25.3" text-anchor="end" font-weight="normal" fill="#4d4d4d">0.00</text>
<rect x="1164" y="1141.6" width="1.6" height="1.6" fill="#8a8a8a"/>
<text x="368" y="1470.2" font-size="23.5" text-anchor="middle" font-weight="normal" fill="#4d4d4d">0</text>
<text x="501.4" y="1470.2" font-size="23.5" text-anchor="middle" font-weight="normal" fill="#4d4d4d">100</text>
<text x="634" y="1470.2" font-size="23.5" text-anchor="middle" font-weight="normal" fill="#4d4d4d">200</text>
<text x="767" y="1470.2" font-size="23.5" text-anchor="middle" font-weight="normal" fill="#4d4d4d">300</text>
<text x="1247.5" y="1463.6" font-size="25.3" text-anchor="middle" font-weight="normal" fill="#4d4d4d">0</text>
<text x="1376.9" y="1463.6" font-size="25.3" text-anchor="middle" font-weight="normal" fill="#4d4d4d">1</text>
<text x="1506.1" y="1463.6" font-size="25.3" text-anchor="middle" font-weight="normal" fill="#4d4d4d">2</text>
<text x="1635.6" y="1463.6" font-size="25.3" text-anchor="middle" font-weight="normal" fill="#4d4d4d">3</text>
<text x="1764.8" y="1463.6" font-size="25.3" text-anchor="middle" font-weight="normal" fill="#4d4d4d">4</text>
<text x="601" y="1493" font-size="22.1" text-anchor="middle" font-weight="normal" fill="#000">MMA [nmol/L]</text>
<text x="1506.1" y="1488.8" font-size="23.8" text-anchor="middle" font-weight="normal" fill="#000">MMA [µmol/mmol creatinine]</text>
<text transform="translate(244,499.4) rotate(-90)" font-size="24" text-anchor="middle">Density</text>
<text transform="translate(244,1187.6) rotate(-90)" font-size="24" text-anchor="middle">Density</text>
<rect x="1865.8" y="1359" width="31.6" height="31.2" fill="#7ad151" fill-opacity="0.19" stroke="none"/>
<rect x="1865.8" y="1359" width="31.6" height="31.2" fill="none" stroke="#6cc644" stroke-width="2"/>
<rect x="1865.8" y="1393.7" width="31.6" height="31.5" fill="#35608d" fill-opacity="0.18" stroke="none"/>
<rect x="1865.8" y="1393.7" width="31.6" height="31.5" fill="none" stroke="#2d5a87" stroke-width="2"/>
<text x="1948.4" y="1381.1" font-size="17.8" text-anchor="middle" font-weight="normal" fill="#000">Placebo</text>
<text x="1948.3" y="1416.9" font-size="17.8" text-anchor="middle" font-weight="normal" fill="#000">Linagliptin</text>
</svg>
</body>
</html>
